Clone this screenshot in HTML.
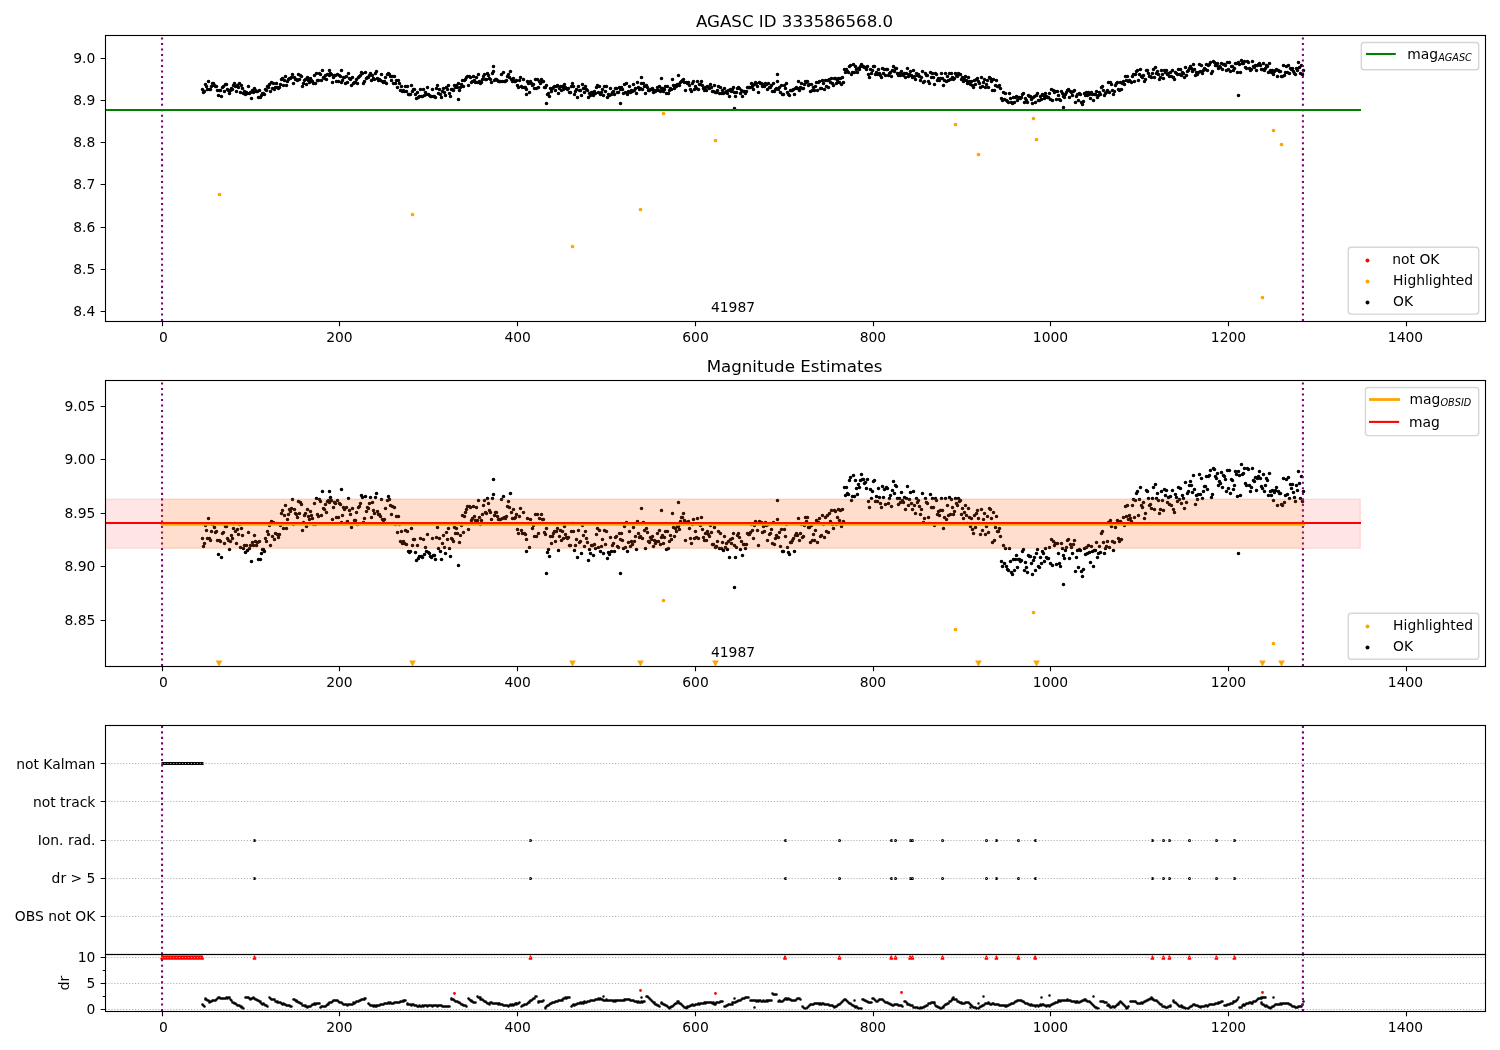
<!DOCTYPE html>
<html><head><meta charset="utf-8"><title>AGASC ID 333586568.0</title>
<style>html,body{margin:0;padding:0;background:#fff}svg{display:block}</style></head>
<body>
<svg width="1500" height="1050" viewBox="0 0 1500 1050" font-family="'DejaVu Sans','Liberation Sans',sans-serif" font-size="13.89" fill="#000">
<rect width="1500" height="1050" fill="#fff"/>
<defs>
<clipPath id="c1"><rect x="105.1" y="35.4" width="1379.9" height="285.9"/></clipPath>
<clipPath id="c2"><rect x="105.1" y="380.4" width="1379.9" height="285.9"/></clipPath>
<clipPath id="c3"><rect x="105.1" y="725.4" width="1379.9" height="229.1"/></clipPath>
<clipPath id="c4"><rect x="105.1" y="954.5" width="1379.9" height="56.8"/></clipPath>
<clipPath id="c34"><rect x="105.1" y="725.4" width="1379.9" height="285.9"/></clipPath>
</defs>
<g>
<path d="M202.5 89.5h.01M203.5 92.5h.01M204.5 91.5h.01M205.5 84.5h.01M206.5 86.5h.01M207.5 89.5h.01M208.5 81.5h.01M209.5 89.5h.01M210.5 89.5h.01M211.5 86.5h.01M212.5 83.5h.01M213.5 83.5h.01M214.5 85.5h.01M215.5 86.5h.01M216.5 86.5h.01M217.5 90.5h.01M218.5 95.5h.01M219.5 90.5h.01M220.5 90.5h.01M221.5 96.5h.01M222.5 87.5h.01M223.5 86.5h.01M224.5 91.5h.01M225.5 84.5h.01M226.5 84.5h.01M227.5 89.5h.01M228.5 90.5h.01M229.5 93.5h.01M230.5 90.5h.01M231.5 88.5h.01M232.5 89.5h.01M233.5 85.5h.01M234.5 83.5h.01M235.5 86.5h.01M236.5 91.5h.01M237.5 85.5h.01M238.5 87.5h.01M239.5 83.5h.01M240.5 92.5h.01M241.5 85.5h.01M242.5 88.5h.01M243.5 93.5h.01M244.5 91.5h.01M245.5 94.5h.01M246.5 92.5h.01M247.5 93.5h.01M248.5 86.5h.01M249.5 93.5h.01M250.5 92.5h.01M251.5 98.5h.01M252.5 90.5h.01M253.5 92.5h.01M254.5 88.5h.01M255.5 90.5h.01M256.5 91.5h.01M257.5 91.5h.01M258.5 97.5h.01M259.5 90.5h.01M260.5 97.5h.01M261.5 95.5h.01M262.5 93.5h.01M263.5 93.5h.01M264.5 94.5h.01M265.5 89.5h.01M266.5 90.5h.01M267.5 86.5h.01M268.5 87.5h.01M269.5 84.5h.01M270.5 91.5h.01M271.5 82.5h.01M272.5 88.5h.01M273.5 83.5h.01M274.5 89.5h.01M275.5 87.5h.01M276.5 83.5h.01M277.5 87.5h.01M278.5 88.5h.01M279.5 87.5h.01M280.5 84.5h.01M281.5 79.5h.01M282.5 78.5h.01M283.5 85.5h.01M284.5 80.5h.01M285.5 76.5h.01M286.5 85.5h.01M287.5 81.5h.01M288.5 79.5h.01M289.5 78.5h.01M290.5 78.5h.01M291.5 77.5h.01M292.5 74.5h.01M293.5 83.5h.01M294.5 77.5h.01M295.5 79.5h.01M296.5 79.5h.01M297.5 80.5h.01M298.5 74.5h.01M299.5 79.5h.01M300.5 75.5h.01M301.5 76.5h.01M302.5 86.5h.01M303.5 83.5h.01M304.5 80.5h.01M305.5 79.5h.01M306.5 84.5h.01M307.5 77.5h.01M308.5 80.5h.01M309.5 82.5h.01M310.5 78.5h.01M311.5 80.5h.01M312.5 81.5h.01M313.5 83.5h.01M314.5 75.5h.01M315.5 83.5h.01M316.5 73.5h.01M317.5 80.5h.01M318.5 80.5h.01M319.5 73.5h.01M320.5 74.5h.01M321.5 80.5h.01M322.5 70.5h.01M323.5 77.5h.01M324.5 78.5h.01M325.5 75.5h.01M326.5 79.5h.01M327.5 74.5h.01M328.5 74.5h.01M329.5 75.5h.01M330.5 73.5h.01M331.5 74.5h.01M332.5 82.5h.01M333.5 77.5h.01M334.5 75.5h.01M335.5 75.5h.01M336.5 81.5h.01M337.5 74.5h.01M338.5 81.5h.01M339.5 75.5h.01M340.5 76.5h.01M341.5 82.5h.01M342.5 80.5h.01M343.5 77.5h.01M344.5 77.5h.01M345.5 83.5h.01M346.5 76.5h.01M347.5 82.5h.01M348.5 73.5h.01M349.5 78.5h.01M350.5 79.5h.01M351.5 85.5h.01M352.5 77.5h.01M353.5 83.5h.01M354.5 82.5h.01M355.5 82.5h.01M356.5 79.5h.01M357.5 83.5h.01M358.5 77.5h.01M359.5 76.5h.01M360.5 75.5h.01M361.5 72.5h.01M362.5 73.5h.01M363.5 83.5h.01M364.5 81.5h.01M365.5 72.5h.01M366.5 78.5h.01M367.5 77.5h.01M368.5 77.5h.01M369.5 75.5h.01M370.5 73.5h.01M371.5 80.5h.01M372.5 75.5h.01M373.5 78.5h.01M374.5 79.5h.01M375.5 73.5h.01M376.5 71.5h.01M377.5 78.5h.01M378.5 80.5h.01M379.5 79.5h.01M380.5 80.5h.01M381.5 74.5h.01M382.5 81.5h.01M383.5 82.5h.01M384.5 81.5h.01M385.5 77.5h.01M386.5 83.5h.01M387.5 74.5h.01M388.5 73.5h.01M389.5 74.5h.01M390.5 76.5h.01M391.5 80.5h.01M392.5 76.5h.01M393.5 83.5h.01M394.5 76.5h.01M395.5 83.5h.01M396.5 80.5h.01M397.5 87.5h.01M398.5 80.5h.01M399.5 83.5h.01M400.5 90.5h.01M401.5 86.5h.01M402.5 91.5h.01M403.5 90.5h.01M404.5 91.5h.01M405.5 86.5h.01M406.5 91.5h.01M407.5 86.5h.01M408.5 94.5h.01M409.5 94.5h.01M410.5 94.5h.01M411.5 85.5h.01M412.5 91.5h.01M413.5 89.5h.01M414.5 89.5h.01M415.5 94.5h.01M416.5 98.5h.01M417.5 92.5h.01M418.5 97.5h.01M419.5 96.5h.01M420.5 89.5h.01M421.5 96.5h.01M422.5 96.5h.01M423.5 89.5h.01M424.5 95.5h.01M425.5 92.5h.01M426.5 94.5h.01M427.5 87.5h.01M428.5 94.5h.01M429.5 95.5h.01M430.5 96.5h.01M431.5 96.5h.01M432.5 89.5h.01M433.5 96.5h.01M434.5 96.5h.01M435.5 97.5h.01M436.5 88.5h.01M437.5 85.5h.01M438.5 93.5h.01M439.5 89.5h.01M440.5 94.5h.01M441.5 97.5h.01M442.5 91.5h.01M443.5 88.5h.01M444.5 92.5h.01M445.5 95.5h.01M446.5 87.5h.01M447.5 89.5h.01M448.5 85.5h.01M449.5 93.5h.01M450.5 96.5h.01M451.5 89.5h.01M452.5 89.5h.01M453.5 90.5h.01M454.5 85.5h.01M455.5 87.5h.01M456.5 85.5h.01M457.5 87.5h.01M458.5 83.5h.01M459.5 90.5h.01M460.5 87.5h.01M461.5 84.5h.01M462.5 80.5h.01M463.5 86.5h.01M464.5 80.5h.01M465.5 79.5h.01M466.5 77.5h.01M467.5 76.5h.01M468.5 85.5h.01M469.5 76.5h.01M470.5 77.5h.01M471.5 82.5h.01M472.5 81.5h.01M473.5 76.5h.01M474.5 80.5h.01M475.5 82.5h.01M476.5 77.5h.01M477.5 82.5h.01M478.5 74.5h.01M479.5 81.5h.01M480.5 83.5h.01M481.5 82.5h.01M482.5 79.5h.01M483.5 76.5h.01M484.5 74.5h.01M485.5 79.5h.01M486.5 79.5h.01M487.5 73.5h.01M488.5 75.5h.01M489.5 78.5h.01M490.5 79.5h.01M491.5 82.5h.01M492.5 73.5h.01M493.5 71.5h.01M494.5 80.5h.01M495.5 79.5h.01M496.5 79.5h.01M497.5 80.5h.01M498.5 81.5h.01M499.5 81.5h.01M500.5 81.5h.01M501.5 74.5h.01M502.5 81.5h.01M503.5 72.5h.01M504.5 81.5h.01M505.5 81.5h.01M506.5 80.5h.01M507.5 76.5h.01M508.5 74.5h.01M509.5 77.5h.01M510.5 71.5h.01M511.5 79.5h.01M512.5 81.5h.01M513.5 78.5h.01M514.5 81.5h.01M515.5 81.5h.01M516.5 80.5h.01M517.5 85.5h.01M518.5 87.5h.01M519.5 80.5h.01M520.5 77.5h.01M521.5 86.5h.01M522.5 87.5h.01M523.5 79.5h.01M524.5 87.5h.01M525.5 87.5h.01M526.5 89.5h.01M527.5 81.5h.01M528.5 83.5h.01M529.5 92.5h.01M530.5 81.5h.01M531.5 83.5h.01M532.5 85.5h.01M533.5 84.5h.01M534.5 88.5h.01M535.5 79.5h.01M536.5 88.5h.01M537.5 79.5h.01M538.5 87.5h.01M539.5 81.5h.01M540.5 83.5h.01M541.5 79.5h.01M542.5 81.5h.01M543.5 81.5h.01M544.5 87.5h.01M545.5 87.5h.01M546.5 85.5h.01M547.5 94.5h.01M548.5 93.5h.01M549.5 96.5h.01M550.5 88.5h.01M551.5 91.5h.01M552.5 88.5h.01M553.5 87.5h.01M554.5 86.5h.01M555.5 90.5h.01M556.5 86.5h.01M557.5 85.5h.01M558.5 93.5h.01M559.5 88.5h.01M560.5 86.5h.01M561.5 90.5h.01M562.5 86.5h.01M563.5 89.5h.01M564.5 84.5h.01M565.5 87.5h.01M566.5 88.5h.01M567.5 89.5h.01M568.5 88.5h.01M569.5 92.5h.01M570.5 92.5h.01M571.5 86.5h.01M572.5 83.5h.01M573.5 86.5h.01M574.5 94.5h.01M575.5 91.5h.01M576.5 89.5h.01M577.5 97.5h.01M578.5 86.5h.01M579.5 90.5h.01M580.5 90.5h.01M581.5 95.5h.01M582.5 84.5h.01M583.5 88.5h.01M584.5 92.5h.01M585.5 86.5h.01M586.5 89.5h.01M587.5 90.5h.01M588.5 97.5h.01M589.5 93.5h.01M590.5 95.5h.01M591.5 92.5h.01M592.5 92.5h.01M593.5 95.5h.01M594.5 91.5h.01M595.5 93.5h.01M596.5 87.5h.01M597.5 85.5h.01M598.5 92.5h.01M599.5 86.5h.01M600.5 94.5h.01M601.5 92.5h.01M602.5 89.5h.01M603.5 95.5h.01M604.5 86.5h.01M605.5 91.5h.01M606.5 86.5h.01M607.5 97.5h.01M608.5 94.5h.01M609.5 95.5h.01M610.5 88.5h.01M611.5 94.5h.01M612.5 92.5h.01M613.5 91.5h.01M614.5 94.5h.01M615.5 88.5h.01M616.5 88.5h.01M617.5 92.5h.01M618.5 92.5h.01M619.5 87.5h.01M620.5 89.5h.01M621.5 87.5h.01M622.5 89.5h.01M623.5 93.5h.01M624.5 84.5h.01M625.5 92.5h.01M626.5 83.5h.01M627.5 94.5h.01M628.5 91.5h.01M629.5 86.5h.01M630.5 92.5h.01M631.5 90.5h.01M632.5 91.5h.01M633.5 84.5h.01M634.5 90.5h.01M635.5 88.5h.01M636.5 93.5h.01M637.5 82.5h.01M638.5 87.5h.01M639.5 89.5h.01M640.5 88.5h.01M641.5 83.5h.01M642.5 89.5h.01M643.5 83.5h.01M644.5 86.5h.01M645.5 93.5h.01M646.5 85.5h.01M647.5 87.5h.01M648.5 90.5h.01M649.5 90.5h.01M650.5 89.5h.01M651.5 89.5h.01M652.5 88.5h.01M653.5 92.5h.01M654.5 90.5h.01M655.5 91.5h.01M656.5 90.5h.01M657.5 87.5h.01M658.5 90.5h.01M659.5 86.5h.01M660.5 91.5h.01M661.5 88.5h.01M662.5 88.5h.01M663.5 91.5h.01M664.5 89.5h.01M665.5 86.5h.01M666.5 93.5h.01M667.5 86.5h.01M668.5 93.5h.01M669.5 90.5h.01M670.5 88.5h.01M671.5 89.5h.01M672.5 79.5h.01M673.5 85.5h.01M674.5 88.5h.01M675.5 85.5h.01M676.5 86.5h.01M677.5 84.5h.01M678.5 84.5h.01M679.5 85.5h.01M680.5 82.5h.01M681.5 81.5h.01M682.5 80.5h.01M683.5 79.5h.01M684.5 82.5h.01M685.5 90.5h.01M686.5 82.5h.01M687.5 83.5h.01M688.5 82.5h.01M689.5 85.5h.01M690.5 89.5h.01M691.5 91.5h.01M692.5 83.5h.01M693.5 81.5h.01M694.5 89.5h.01M695.5 86.5h.01M696.5 88.5h.01M697.5 81.5h.01M698.5 89.5h.01M699.5 84.5h.01M700.5 84.5h.01M701.5 81.5h.01M702.5 85.5h.01M703.5 88.5h.01M704.5 90.5h.01M705.5 87.5h.01M706.5 90.5h.01M707.5 86.5h.01M708.5 87.5h.01M709.5 88.5h.01M710.5 84.5h.01M711.5 87.5h.01M712.5 91.5h.01M713.5 91.5h.01M714.5 85.5h.01M715.5 92.5h.01M716.5 92.5h.01M717.5 90.5h.01M718.5 86.5h.01M719.5 93.5h.01M720.5 87.5h.01M721.5 93.5h.01M722.5 90.5h.01M723.5 93.5h.01M724.5 88.5h.01M725.5 92.5h.01M726.5 91.5h.01M727.5 93.5h.01M728.5 90.5h.01M729.5 96.5h.01M730.5 89.5h.01M731.5 91.5h.01M732.5 89.5h.01M733.5 87.5h.01M734.5 92.5h.01M735.5 96.5h.01M736.5 92.5h.01M737.5 88.5h.01M738.5 87.5h.01M739.5 88.5h.01M740.5 93.5h.01M741.5 90.5h.01M742.5 96.5h.01M743.5 91.5h.01M744.5 91.5h.01M745.5 93.5h.01M746.5 91.5h.01M747.5 87.5h.01M748.5 87.5h.01M749.5 87.5h.01M750.5 87.5h.01M751.5 83.5h.01M752.5 86.5h.01M753.5 89.5h.01M754.5 84.5h.01M755.5 82.5h.01M756.5 83.5h.01M757.5 86.5h.01M758.5 92.5h.01M759.5 82.5h.01M760.5 83.5h.01M761.5 83.5h.01M762.5 86.5h.01M763.5 84.5h.01M764.5 86.5h.01M765.5 83.5h.01M766.5 84.5h.01M767.5 89.5h.01M768.5 83.5h.01M769.5 87.5h.01M770.5 87.5h.01M771.5 85.5h.01M772.5 91.5h.01M773.5 83.5h.01M774.5 91.5h.01M775.5 89.5h.01M776.5 88.5h.01M777.5 81.5h.01M778.5 89.5h.01M779.5 87.5h.01M780.5 92.5h.01M781.5 85.5h.01M782.5 94.5h.01M783.5 94.5h.01M784.5 85.5h.01M785.5 88.5h.01M786.5 83.5h.01M787.5 92.5h.01M788.5 94.5h.01M789.5 95.5h.01M790.5 90.5h.01M791.5 90.5h.01M792.5 90.5h.01M793.5 89.5h.01M794.5 94.5h.01M795.5 88.5h.01M796.5 87.5h.01M797.5 88.5h.01M798.5 81.5h.01M799.5 90.5h.01M800.5 87.5h.01M801.5 83.5h.01M802.5 88.5h.01M803.5 88.5h.01M804.5 84.5h.01M805.5 81.5h.01M806.5 82.5h.01M807.5 81.5h.01M808.5 85.5h.01M809.5 84.5h.01M810.5 91.5h.01M811.5 84.5h.01M812.5 90.5h.01M813.5 87.5h.01M814.5 90.5h.01M815.5 86.5h.01M816.5 82.5h.01M817.5 90.5h.01M818.5 82.5h.01M819.5 81.5h.01M820.5 88.5h.01M821.5 88.5h.01M822.5 80.5h.01M823.5 83.5h.01M824.5 89.5h.01M825.5 80.5h.01M826.5 86.5h.01M827.5 80.5h.01M828.5 87.5h.01M829.5 79.5h.01M830.5 82.5h.01M831.5 78.5h.01M832.5 83.5h.01M833.5 85.5h.01M834.5 78.5h.01M835.5 78.5h.01M836.5 83.5h.01M837.5 80.5h.01M838.5 78.5h.01M839.5 82.5h.01M840.5 78.5h.01M841.5 84.5h.01M842.5 77.5h.01M843.5 82.5h.01M844.5 69.5h.01M845.5 72.5h.01M846.5 69.5h.01M847.5 71.5h.01M848.5 72.5h.01M849.5 66.5h.01M850.5 65.5h.01M851.5 74.5h.01M852.5 72.5h.01M853.5 64.5h.01M854.5 72.5h.01M855.5 66.5h.01M856.5 69.5h.01M857.5 72.5h.01M858.5 68.5h.01M859.5 69.5h.01M860.5 66.5h.01M861.5 64.5h.01M862.5 66.5h.01M863.5 66.5h.01M864.5 67.5h.01M865.5 67.5h.01M866.5 69.5h.01M867.5 66.5h.01M868.5 74.5h.01M869.5 77.5h.01M870.5 69.5h.01M871.5 73.5h.01M872.5 70.5h.01M873.5 66.5h.01M874.5 66.5h.01M875.5 74.5h.01M876.5 72.5h.01M877.5 74.5h.01M878.5 69.5h.01M879.5 73.5h.01M880.5 75.5h.01M881.5 77.5h.01M882.5 68.5h.01M883.5 73.5h.01M884.5 69.5h.01M885.5 75.5h.01M886.5 69.5h.01M887.5 69.5h.01M888.5 75.5h.01M889.5 73.5h.01M890.5 72.5h.01M891.5 76.5h.01M892.5 70.5h.01M893.5 66.5h.01M894.5 71.5h.01M895.5 68.5h.01M896.5 68.5h.01M897.5 73.5h.01M898.5 75.5h.01M899.5 73.5h.01M900.5 75.5h.01M901.5 71.5h.01M902.5 74.5h.01M903.5 75.5h.01M904.5 73.5h.01M905.5 77.5h.01M906.5 73.5h.01M907.5 68.5h.01M908.5 76.5h.01M909.5 74.5h.01M910.5 71.5h.01M911.5 75.5h.01M912.5 77.5h.01M913.5 70.5h.01M914.5 76.5h.01M915.5 79.5h.01M916.5 73.5h.01M917.5 75.5h.01M918.5 74.5h.01M919.5 76.5h.01M920.5 80.5h.01M921.5 77.5h.01M922.5 71.5h.01M923.5 82.5h.01M924.5 81.5h.01M925.5 73.5h.01M926.5 75.5h.01M927.5 75.5h.01M928.5 81.5h.01M929.5 83.5h.01M930.5 72.5h.01M931.5 77.5h.01M932.5 73.5h.01M933.5 77.5h.01M934.5 84.5h.01M935.5 73.5h.01M936.5 74.5h.01M937.5 80.5h.01M938.5 78.5h.01M939.5 80.5h.01M940.5 78.5h.01M941.5 73.5h.01M942.5 78.5h.01M943.5 85.5h.01M944.5 80.5h.01M945.5 73.5h.01M946.5 81.5h.01M947.5 76.5h.01M948.5 80.5h.01M949.5 73.5h.01M950.5 79.5h.01M951.5 73.5h.01M952.5 77.5h.01M953.5 79.5h.01M954.5 78.5h.01M955.5 73.5h.01M956.5 75.5h.01M957.5 76.5h.01M958.5 73.5h.01M959.5 74.5h.01M960.5 74.5h.01M961.5 79.5h.01M962.5 77.5h.01M963.5 81.5h.01M964.5 79.5h.01M965.5 76.5h.01M966.5 80.5h.01M967.5 83.5h.01M968.5 77.5h.01M969.5 81.5h.01M970.5 84.5h.01M971.5 81.5h.01M972.5 85.5h.01M973.5 87.5h.01M974.5 80.5h.01M975.5 84.5h.01M976.5 79.5h.01M977.5 78.5h.01M978.5 81.5h.01M979.5 83.5h.01M980.5 87.5h.01M981.5 77.5h.01M982.5 86.5h.01M983.5 82.5h.01M984.5 79.5h.01M985.5 87.5h.01M986.5 84.5h.01M987.5 80.5h.01M988.5 87.5h.01M989.5 77.5h.01M990.5 78.5h.01M991.5 81.5h.01M992.5 90.5h.01M993.5 79.5h.01M994.5 90.5h.01M995.5 85.5h.01M996.5 80.5h.01M997.5 86.5h.01M998.5 86.5h.01M999.5 85.5h.01M1000.5 88.5h.01M1001.5 98.5h.01M1002.5 100.5h.01M1003.5 92.5h.01M1004.5 99.5h.01M1005.5 93.5h.01M1006.5 100.5h.01M1007.5 101.5h.01M1008.5 102.5h.01M1009.5 93.5h.01M1010.5 98.5h.01M1011.5 102.5h.01M1012.5 103.5h.01M1013.5 97.5h.01M1014.5 102.5h.01M1015.5 97.5h.01M1016.5 96.5h.01M1017.5 100.5h.01M1018.5 97.5h.01M1019.5 97.5h.01M1020.5 98.5h.01M1021.5 97.5h.01M1022.5 94.5h.01M1023.5 93.5h.01M1024.49 102.5h.01M1025.49 98.5h.01M1026.49 100.5h.01M1027.49 102.5h.01M1028.49 95.5h.01M1029.49 96.5h.01M1030.49 96.5h.01M1031.49 99.5h.01M1032.49 103.5h.01M1033.49 97.5h.01M1034.49 96.5h.01M1035.49 102.5h.01M1036.49 95.5h.01M1037.49 93.5h.01M1038.49 100.5h.01M1039.49 100.5h.01M1040.49 96.5h.01M1041.49 99.5h.01M1042.49 94.5h.01M1043.49 95.5h.01M1044.49 98.5h.01M1045.49 93.5h.01M1046.49 96.5h.01M1047.49 97.5h.01M1048.49 97.5h.01M1049.49 93.5h.01M1050.49 99.5h.01M1051.49 89.5h.01M1052.49 100.5h.01M1053.49 90.5h.01M1054.49 92.5h.01M1055.49 91.5h.01M1056.49 99.5h.01M1057.49 91.5h.01M1058.49 95.5h.01M1059.49 99.5h.01M1060.49 100.5h.01M1061.49 91.5h.01M1062.49 93.5h.01M1063.49 96.5h.01M1064.49 97.5h.01M1065.49 94.5h.01M1066.49 92.5h.01M1067.49 90.5h.01M1068.49 89.5h.01M1069.49 97.5h.01M1070.49 91.5h.01M1071.49 92.5h.01M1072.49 95.5h.01M1073.49 91.5h.01M1074.49 90.5h.01M1075.49 102.5h.01M1076.49 96.5h.01M1077.49 94.5h.01M1078.49 100.5h.01M1079.49 93.5h.01M1080.49 94.5h.01M1081.49 102.5h.01M1082.49 104.5h.01M1083.49 101.5h.01M1084.49 93.5h.01M1085.49 95.5h.01M1086.49 92.5h.01M1087.49 95.5h.01M1088.49 92.5h.01M1089.49 94.5h.01M1090.49 98.5h.01M1091.49 92.5h.01M1092.49 94.5h.01M1093.49 100.5h.01M1094.49 94.5h.01M1095.49 94.5h.01M1096.49 91.5h.01M1097.49 97.5h.01M1098.49 95.5h.01M1099.49 92.5h.01M1100.49 94.5h.01M1101.49 87.5h.01M1102.49 86.5h.01M1103.49 90.5h.01M1104.49 95.5h.01M1105.49 93.5h.01M1106.49 92.5h.01M1107.49 90.5h.01M1108.49 82.5h.01M1109.49 92.5h.01M1110.49 82.5h.01M1111.49 84.5h.01M1112.49 90.5h.01M1113.49 94.5h.01M1114.49 91.5h.01M1115.49 85.5h.01M1116.49 83.5h.01M1117.49 82.5h.01M1118.49 89.5h.01M1119.49 90.5h.01M1120.49 82.5h.01M1121.49 89.5h.01M1122.49 83.5h.01M1123.49 81.5h.01M1124.49 84.5h.01M1125.49 76.5h.01M1126.49 80.5h.01M1127.49 76.5h.01M1128.49 81.5h.01M1129.49 80.5h.01M1130.49 81.5h.01M1131.49 82.5h.01M1132.49 76.5h.01M1133.49 74.5h.01M1134.49 81.5h.01M1135.49 74.5h.01M1136.49 71.5h.01M1137.49 70.5h.01M1138.49 80.5h.01M1139.49 74.5h.01M1140.49 69.5h.01M1141.49 76.5h.01M1142.49 77.5h.01M1143.49 75.5h.01M1144.49 81.5h.01M1145.49 79.5h.01M1146.49 70.5h.01M1147.49 70.5h.01M1148.49 73.5h.01M1149.49 76.5h.01M1150.49 76.5h.01M1151.49 77.5h.01M1152.49 73.5h.01M1153.49 69.5h.01M1154.49 77.5h.01M1155.49 67.5h.01M1156.49 73.5h.01M1157.49 71.5h.01M1158.49 74.5h.01M1159.49 79.5h.01M1160.49 77.5h.01M1161.49 70.5h.01M1162.49 74.5h.01M1163.49 78.5h.01M1164.49 70.5h.01M1165.49 72.5h.01M1166.49 70.5h.01M1167.49 74.5h.01M1168.49 73.5h.01M1169.49 76.5h.01M1170.49 72.5h.01M1171.49 76.5h.01M1172.49 70.5h.01M1173.49 77.5h.01M1174.49 79.5h.01M1175.49 72.5h.01M1176.49 73.5h.01M1177.49 74.5h.01M1178.49 69.5h.01M1179.49 74.5h.01M1180.49 69.5h.01M1181.49 75.5h.01M1182.49 72.5h.01M1183.49 73.5h.01M1184.49 77.5h.01M1185.49 67.5h.01M1186.49 75.5h.01M1187.49 71.5h.01M1188.49 70.5h.01M1189.49 68.5h.01M1190.49 66.5h.01M1191.49 68.5h.01M1192.49 71.5h.01M1193.49 64.5h.01M1194.49 69.5h.01M1195.49 75.5h.01M1196.49 72.5h.01M1197.49 74.5h.01M1198.49 72.5h.01M1199.49 64.5h.01M1200.49 71.5h.01M1201.49 65.5h.01M1202.49 73.5h.01M1203.49 70.5h.01M1204.49 68.5h.01M1205.49 69.5h.01M1206.49 64.5h.01M1207.49 70.5h.01M1208.49 65.5h.01M1209.49 64.5h.01M1210.49 62.5h.01M1211.49 73.5h.01M1212.49 71.5h.01M1213.49 61.5h.01M1214.49 62.5h.01M1215.49 65.5h.01M1216.49 65.5h.01M1217.49 63.5h.01M1218.49 68.5h.01M1219.49 66.5h.01M1220.49 67.5h.01M1221.49 63.5h.01M1222.49 69.5h.01M1223.49 64.5h.01M1224.49 64.5h.01M1225.49 65.5h.01M1226.49 70.5h.01M1227.49 62.5h.01M1228.49 69.5h.01M1229.49 62.5h.01M1230.49 71.5h.01M1231.49 66.5h.01M1232.49 66.5h.01M1233.49 70.5h.01M1234.49 68.5h.01M1235.49 63.5h.01M1236.49 63.5h.01M1237.49 72.5h.01M1238.49 62.5h.01M1239.49 64.5h.01M1240.49 72.5h.01M1241.49 60.5h.01M1242.49 63.5h.01M1243.49 63.5h.01M1244.49 61.5h.01M1245.49 67.5h.01M1246.49 68.5h.01M1247.49 61.5h.01M1248.49 62.5h.01M1249.49 68.5h.01M1250.49 70.5h.01M1251.49 69.5h.01M1252.49 61.5h.01M1253.49 66.5h.01M1254.49 67.5h.01M1255.49 65.5h.01M1256.49 70.5h.01M1257.49 65.5h.01M1258.49 64.5h.01M1259.49 63.5h.01M1260.49 65.5h.01M1261.49 69.5h.01M1262.49 69.5h.01M1263.49 63.5h.01M1264.49 70.5h.01M1265.49 68.5h.01M1266.49 65.5h.01M1267.49 66.5h.01M1268.49 72.5h.01M1269.49 63.5h.01M1270.49 70.5h.01M1271.49 72.5h.01M1272.49 70.5h.01M1273.49 74.5h.01M1274.49 71.5h.01M1275.49 70.5h.01M1276.49 69.5h.01M1277.49 76.5h.01M1278.49 70.5h.01M1279.49 71.5h.01M1280.49 71.5h.01M1281.49 76.5h.01M1282.49 76.5h.01M1283.49 65.5h.01M1284.49 75.5h.01M1285.49 72.5h.01M1286.49 66.5h.01M1287.49 72.5h.01M1288.49 65.5h.01M1289.49 73.5h.01M1290.49 68.5h.01M1291.49 69.5h.01M1292.49 68.5h.01M1293.49 71.5h.01M1294.49 73.5h.01M1295.49 74.5h.01M1296.49 68.5h.01M1297.49 70.5h.01M1298.49 62.5h.01M1299.49 67.5h.01M1300.49 73.5h.01M1301.49 65.5h.01M1302.49 74.5h.01M1303.49 70.5h.01M493.5 66.5h.01M458.5 99.5h.01M546.5 103.5h.01M526.5 94.5h.01M620.5 103.5h.01M734.5 108.5h.01M641.5 77.5h.01M661.5 78.5h.01M678.5 75.5h.01M777.5 74.5h.01M1238.49 95.5h.01M329.5 70.5h.01M341.5 70.5h.01M1063.49 107.5h.01" stroke="#000" stroke-width="3.6" stroke-linecap="round" fill="none" clip-path="url(#c1)"/>
<path d="M219.5 194.5h.01M412.5 214.5h.01M572.5 246.5h.01M640.5 209.5h.01M663.5 113.5h.01M715.5 140.5h.01M955.5 124.5h.01M978.5 154.5h.01M1033.49 118.5h.01M1036.49 139.5h.01M1273.49 130.5h.01M1281.49 144.5h.01M1262.49 297.5h.01" stroke="#ffa500" stroke-width="3.7" stroke-linecap="round" fill="none" clip-path="url(#c1)"/>
<path d="M162.05 321.03V32.4" stroke="#800080" stroke-width="2.08" stroke-dasharray="2.0833 3.4375" fill="none" clip-path="url(#c1)"/>
<path d="M1302.92 321.03V32.4" stroke="#800080" stroke-width="2.08" stroke-dasharray="2.0833 3.4375" fill="none" clip-path="url(#c1)"/>
<path d="M105.1 110H1361" stroke="#008000" stroke-width="2.08" fill="none"/>
<rect x="105.5" y="35.5" width="1380" height="286" fill="none" stroke="#000" stroke-width="1.11"/>
<path d="M162.5 321.5v4.86M339.5 321.5v4.86M517.5 321.5v4.86M695.5 321.5v4.86M873.5 321.5v4.86M1050.5 321.5v4.86M1228.5 321.5v4.86M1406.5 321.5v4.86" stroke="#000" stroke-width="1.11" fill="none"/>
<text x="163.4" y="342" text-anchor="middle">0</text>
<text x="339.4" y="342" text-anchor="middle">200</text>
<text x="517.7" y="342" text-anchor="middle">400</text>
<text x="695.5" y="342" text-anchor="middle">600</text>
<text x="872.9" y="342" text-anchor="middle">800</text>
<text x="1050.5" y="342" text-anchor="middle">1000</text>
<text x="1228.5" y="342" text-anchor="middle">1200</text>
<text x="1405.5" y="342" text-anchor="middle">1400</text>
<path d="M105.5 311.5h-4.86M105.5 269.5h-4.86M105.5 227.5h-4.86M105.5 184.5h-4.86M105.5 142.5h-4.86M105.5 100.5h-4.86M105.5 58.5h-4.86" stroke="#000" stroke-width="1.11" fill="none"/>
<text x="95.38" y="315.8" text-anchor="end">8.4</text>
<text x="95.38" y="273.8" text-anchor="end">8.5</text>
<text x="95.38" y="231.8" text-anchor="end">8.6</text>
<text x="95.38" y="188.8" text-anchor="end">8.7</text>
<text x="95.38" y="146.8" text-anchor="end">8.8</text>
<text x="95.38" y="104.8" text-anchor="end">8.9</text>
<text x="95.38" y="62.8" text-anchor="end">9.0</text>
<text x="733" y="311.9" text-anchor="middle">41987</text>
<text x="794.55" y="26.97" text-anchor="middle" font-size="16.67">AGASC ID 333586568.0</text>
<rect x="1361.3" y="42.5" width="117.4" height="27.2" rx="2.78" fill="#fff" fill-opacity="0.8" stroke="#ccc" stroke-opacity="0.8" stroke-width="1.39"/>
<path d="M1365.9 54H1395.8" stroke="#008000" stroke-width="2.08" fill="none"/>
<text x="1407.3" y="58.8">mag<tspan font-style="italic" font-size="9.72" dy="2.2">AGASC</tspan></text>
<rect x="1348.3" y="247.3" width="130.4" height="66.8" rx="2.78" fill="#fff" fill-opacity="0.8" stroke="#ccc" stroke-opacity="0.8" stroke-width="1.39"/>
<path d="M1367.49 260.5h.01" stroke="#f00" stroke-width="3.9" stroke-linecap="round" fill="none"/>
<text x="1392.3" y="263.7">not OK</text>
<path d="M1367.49 281.5h.01" stroke="#ffa500" stroke-width="3.9" stroke-linecap="round" fill="none"/>
<text x="1393.1" y="284.8">Highlighted</text>
<path d="M1367.49 302.5h.01" stroke="#000" stroke-width="3.9" stroke-linecap="round" fill="none"/>
<text x="1393.1" y="305.7">OK</text>
</g>
<g>
<path d="M202.5 538.5h.01M203.5 546.5h.01M204.5 543.5h.01M205.5 525.5h.01M206.5 530.5h.01M207.5 538.5h.01M208.5 518.5h.01M209.5 538.5h.01M210.5 540.5h.01M211.5 531.5h.01M212.5 524.5h.01M213.5 524.5h.01M214.5 527.5h.01M215.5 532.5h.01M216.5 531.5h.01M217.5 540.5h.01M218.5 554.5h.01M219.5 540.5h.01M220.5 541.5h.01M221.5 557.5h.01M222.5 533.5h.01M223.5 532.5h.01M224.5 543.5h.01M225.5 526.5h.01M226.5 526.5h.01M227.5 538.5h.01M228.5 540.5h.01M229.5 549.5h.01M230.5 541.5h.01M231.5 535.5h.01M232.5 538.5h.01M233.5 528.5h.01M234.5 523.5h.01M235.5 531.5h.01M236.5 543.5h.01M237.5 529.5h.01M238.5 534.5h.01M239.5 524.5h.01M240.5 547.5h.01M241.5 528.5h.01M242.5 535.5h.01M243.5 548.5h.01M244.5 545.5h.01M245.5 552.5h.01M246.5 545.5h.01M247.5 550.5h.01M248.5 532.5h.01M249.5 548.5h.01M250.5 545.5h.01M251.5 561.5h.01M252.5 542.5h.01M253.5 545.5h.01M254.5 535.5h.01M255.5 541.5h.01M256.5 545.5h.01M257.5 542.5h.01M258.5 559.5h.01M259.5 541.5h.01M260.5 559.5h.01M261.5 553.5h.01M262.5 549.5h.01M263.5 549.5h.01M264.5 551.5h.01M265.5 538.5h.01M266.5 541.5h.01M267.5 531.5h.01M268.5 534.5h.01M269.5 525.5h.01M270.5 545.5h.01M271.5 521.5h.01M272.5 536.5h.01M273.5 522.5h.01M274.5 539.5h.01M275.5 533.5h.01M276.5 523.5h.01M277.5 534.5h.01M278.5 537.5h.01M279.5 534.5h.01M280.5 525.5h.01M281.5 513.5h.01M282.5 510.5h.01M283.5 528.5h.01M284.5 515.5h.01M285.5 505.5h.01M286.5 528.5h.01M287.5 519.5h.01M288.5 514.5h.01M289.5 509.5h.01M290.5 511.5h.01M291.5 508.5h.01M292.5 499.5h.01M293.5 524.5h.01M294.5 509.5h.01M295.5 513.5h.01M296.5 514.5h.01M297.5 517.5h.01M298.5 501.5h.01M299.5 513.5h.01M300.5 502.5h.01M301.5 504.5h.01M302.5 530.5h.01M303.5 522.5h.01M304.5 515.5h.01M305.5 513.5h.01M306.5 526.5h.01M307.5 509.5h.01M308.5 516.5h.01M309.5 519.5h.01M310.5 511.5h.01M311.5 515.5h.01M312.5 518.5h.01M313.5 524.5h.01M314.5 503.5h.01M315.5 524.5h.01M316.5 498.5h.01M317.5 514.5h.01M318.5 516.5h.01M319.5 499.5h.01M320.5 501.5h.01M321.5 515.5h.01M322.5 491.5h.01M323.5 508.5h.01M324.5 509.5h.01M325.5 504.5h.01M326.5 512.5h.01M327.5 501.5h.01M328.5 500.5h.01M329.5 502.5h.01M330.5 497.5h.01M331.5 500.5h.01M332.5 519.5h.01M333.5 507.5h.01M334.5 502.5h.01M335.5 503.5h.01M336.5 517.5h.01M337.5 500.5h.01M338.5 517.5h.01M339.5 503.5h.01M340.5 504.5h.01M341.5 522.5h.01M342.5 515.5h.01M343.5 507.5h.01M344.5 509.5h.01M345.5 523.5h.01M346.5 507.5h.01M347.5 521.5h.01M348.5 498.5h.01M349.5 510.5h.01M350.5 514.5h.01M351.5 527.5h.01M352.5 508.5h.01M353.5 523.5h.01M354.5 520.5h.01M355.5 520.5h.01M356.5 512.5h.01M357.5 524.5h.01M358.5 507.5h.01M359.5 506.5h.01M360.5 503.5h.01M361.5 495.5h.01M362.5 497.5h.01M363.5 522.5h.01M364.5 518.5h.01M365.5 496.5h.01M366.5 511.5h.01M367.5 507.5h.01M368.5 508.5h.01M369.5 503.5h.01M370.5 497.5h.01M371.5 517.5h.01M372.5 502.5h.01M373.5 510.5h.01M374.5 513.5h.01M375.5 497.5h.01M376.5 493.5h.01M377.5 511.5h.01M378.5 514.5h.01M379.5 514.5h.01M380.5 516.5h.01M381.5 499.5h.01M382.5 519.5h.01M383.5 520.5h.01M384.5 519.5h.01M385.5 508.5h.01M386.5 523.5h.01M387.5 500.5h.01M388.5 496.5h.01M389.5 499.5h.01M390.5 505.5h.01M391.5 514.5h.01M392.5 506.5h.01M393.5 523.5h.01M394.5 507.5h.01M395.5 524.5h.01M396.5 516.5h.01M397.5 532.5h.01M398.5 516.5h.01M399.5 524.5h.01M400.5 541.5h.01M401.5 531.5h.01M402.5 543.5h.01M403.5 541.5h.01M404.5 543.5h.01M405.5 530.5h.01M406.5 544.5h.01M407.5 531.5h.01M408.5 551.5h.01M409.5 552.5h.01M410.5 551.5h.01M411.5 528.5h.01M412.5 545.5h.01M413.5 539.5h.01M414.5 539.5h.01M415.5 552.5h.01M416.5 560.5h.01M417.5 545.5h.01M418.5 558.5h.01M419.5 556.5h.01M420.5 538.5h.01M421.5 556.5h.01M422.5 557.5h.01M423.5 539.5h.01M424.5 554.5h.01M425.5 547.5h.01M426.5 551.5h.01M427.5 534.5h.01M428.5 552.5h.01M429.5 553.5h.01M430.5 556.5h.01M431.5 557.5h.01M432.5 538.5h.01M433.5 555.5h.01M434.5 555.5h.01M435.5 559.5h.01M436.5 537.5h.01M437.5 527.5h.01M438.5 548.5h.01M439.5 538.5h.01M440.5 551.5h.01M441.5 559.5h.01M442.5 543.5h.01M443.5 535.5h.01M444.5 547.5h.01M445.5 553.5h.01M446.5 532.5h.01M447.5 539.5h.01M448.5 528.5h.01M449.5 548.5h.01M450.5 556.5h.01M451.5 538.5h.01M452.5 539.5h.01M453.5 541.5h.01M454.5 527.5h.01M455.5 533.5h.01M456.5 528.5h.01M457.5 533.5h.01M458.5 523.5h.01M459.5 542.5h.01M460.5 535.5h.01M461.5 525.5h.01M462.5 515.5h.01M463.5 532.5h.01M464.5 516.5h.01M465.5 512.5h.01M466.5 509.5h.01M467.5 506.5h.01M468.5 529.5h.01M469.5 506.5h.01M470.5 507.5h.01M471.5 520.5h.01M472.5 518.5h.01M473.5 506.5h.01M474.5 516.5h.01M475.5 520.5h.01M476.5 507.5h.01M477.5 520.5h.01M478.5 500.5h.01M479.5 517.5h.01M480.5 524.5h.01M481.5 520.5h.01M482.5 514.5h.01M483.5 505.5h.01M484.5 500.5h.01M485.5 512.5h.01M486.5 513.5h.01M487.5 498.5h.01M488.5 503.5h.01M489.5 510.5h.01M490.5 512.5h.01M491.5 519.5h.01M492.5 498.5h.01M493.5 494.5h.01M494.5 515.5h.01M495.5 512.5h.01M496.5 512.5h.01M497.5 516.5h.01M498.5 519.5h.01M499.5 519.5h.01M500.5 519.5h.01M501.5 499.5h.01M502.5 518.5h.01M503.5 496.5h.01M504.5 517.5h.01M505.5 518.5h.01M506.5 516.5h.01M507.5 506.5h.01M508.5 501.5h.01M509.5 507.5h.01M510.5 493.5h.01M511.5 512.5h.01M512.5 518.5h.01M513.5 509.5h.01M514.5 518.5h.01M515.5 517.5h.01M516.5 514.5h.01M517.5 529.5h.01M518.5 533.5h.01M519.5 516.5h.01M520.5 508.5h.01M521.5 530.5h.01M522.5 533.5h.01M523.5 512.5h.01M524.5 533.5h.01M525.5 534.5h.01M526.5 539.5h.01M527.5 518.5h.01M528.5 523.5h.01M529.5 547.5h.01M530.5 519.5h.01M531.5 523.5h.01M532.5 528.5h.01M533.5 525.5h.01M534.5 536.5h.01M535.5 514.5h.01M536.5 536.5h.01M537.5 514.5h.01M538.5 533.5h.01M539.5 518.5h.01M540.5 523.5h.01M541.5 514.5h.01M542.5 519.5h.01M543.5 519.5h.01M544.5 532.5h.01M545.5 534.5h.01M546.5 528.5h.01M547.5 552.5h.01M548.5 549.5h.01M549.5 556.5h.01M550.5 536.5h.01M551.5 543.5h.01M552.5 536.5h.01M553.5 533.5h.01M554.5 531.5h.01M555.5 541.5h.01M556.5 531.5h.01M557.5 528.5h.01M558.5 550.5h.01M559.5 536.5h.01M560.5 530.5h.01M561.5 540.5h.01M562.5 531.5h.01M563.5 538.5h.01M564.5 526.5h.01M565.5 534.5h.01M566.5 537.5h.01M567.5 538.5h.01M568.5 537.5h.01M569.5 545.5h.01M570.5 545.5h.01M571.5 531.5h.01M572.5 523.5h.01M573.5 531.5h.01M574.5 550.5h.01M575.5 545.5h.01M576.5 539.5h.01M577.5 557.5h.01M578.5 530.5h.01M579.5 542.5h.01M580.5 541.5h.01M581.5 553.5h.01M582.5 525.5h.01M583.5 535.5h.01M584.5 546.5h.01M585.5 531.5h.01M586.5 538.5h.01M587.5 542.5h.01M588.5 560.5h.01M589.5 549.5h.01M590.5 553.5h.01M591.5 545.5h.01M592.5 545.5h.01M593.5 555.5h.01M594.5 544.5h.01M595.5 548.5h.01M596.5 534.5h.01M597.5 528.5h.01M598.5 547.5h.01M599.5 530.5h.01M600.5 551.5h.01M601.5 546.5h.01M602.5 539.5h.01M603.5 553.5h.01M604.5 530.5h.01M605.5 544.5h.01M606.5 531.5h.01M607.5 558.5h.01M608.5 552.5h.01M609.5 554.5h.01M610.5 537.5h.01M611.5 551.5h.01M612.5 545.5h.01M613.5 543.5h.01M614.5 551.5h.01M615.5 537.5h.01M616.5 536.5h.01M617.5 546.5h.01M618.5 547.5h.01M619.5 533.5h.01M620.5 539.5h.01M621.5 533.5h.01M622.5 540.5h.01M623.5 548.5h.01M624.5 526.5h.01M625.5 547.5h.01M626.5 522.5h.01M627.5 551.5h.01M628.5 542.5h.01M629.5 531.5h.01M630.5 546.5h.01M631.5 541.5h.01M632.5 544.5h.01M633.5 527.5h.01M634.5 541.5h.01M635.5 536.5h.01M636.5 549.5h.01M637.5 521.5h.01M638.5 533.5h.01M639.5 537.5h.01M640.5 536.5h.01M641.5 523.5h.01M642.5 538.5h.01M643.5 522.5h.01M644.5 530.5h.01M645.5 548.5h.01M646.5 528.5h.01M647.5 532.5h.01M648.5 541.5h.01M649.5 542.5h.01M650.5 537.5h.01M651.5 539.5h.01M652.5 536.5h.01M653.5 546.5h.01M654.5 540.5h.01M655.5 543.5h.01M656.5 541.5h.01M657.5 533.5h.01M658.5 541.5h.01M659.5 530.5h.01M660.5 544.5h.01M661.5 537.5h.01M662.5 535.5h.01M663.5 543.5h.01M664.5 537.5h.01M665.5 531.5h.01M666.5 549.5h.01M667.5 531.5h.01M668.5 548.5h.01M669.5 541.5h.01M670.5 535.5h.01M671.5 539.5h.01M672.5 513.5h.01M673.5 527.5h.01M674.5 536.5h.01M675.5 528.5h.01M676.5 531.5h.01M677.5 526.5h.01M678.5 526.5h.01M679.5 529.5h.01M680.5 521.5h.01M681.5 517.5h.01M682.5 517.5h.01M683.5 513.5h.01M684.5 520.5h.01M685.5 540.5h.01M686.5 522.5h.01M687.5 523.5h.01M688.5 521.5h.01M689.5 528.5h.01M690.5 538.5h.01M691.5 543.5h.01M692.5 524.5h.01M693.5 519.5h.01M694.5 538.5h.01M695.5 531.5h.01M696.5 537.5h.01M697.5 518.5h.01M698.5 538.5h.01M699.5 524.5h.01M700.5 525.5h.01M701.5 517.5h.01M702.5 529.5h.01M703.5 537.5h.01M704.5 540.5h.01M705.5 533.5h.01M706.5 540.5h.01M707.5 531.5h.01M708.5 534.5h.01M709.5 536.5h.01M710.5 525.5h.01M711.5 532.5h.01M712.5 544.5h.01M713.5 544.5h.01M714.5 527.5h.01M715.5 547.5h.01M716.5 546.5h.01M717.5 541.5h.01M718.5 531.5h.01M719.5 548.5h.01M720.5 533.5h.01M721.5 548.5h.01M722.5 542.5h.01M723.5 550.5h.01M724.5 536.5h.01M725.5 547.5h.01M726.5 543.5h.01M727.5 549.5h.01M728.5 541.5h.01M729.5 557.5h.01M730.5 539.5h.01M731.5 543.5h.01M732.5 538.5h.01M733.5 533.5h.01M734.5 545.5h.01M735.5 557.5h.01M736.5 547.5h.01M737.5 535.5h.01M738.5 533.5h.01M739.5 537.5h.01M740.5 549.5h.01M741.5 541.5h.01M742.5 555.5h.01M743.5 544.5h.01M744.5 544.5h.01M745.5 548.5h.01M746.5 544.5h.01M747.5 533.5h.01M748.5 534.5h.01M749.5 534.5h.01M750.5 532.5h.01M751.5 524.5h.01M752.5 530.5h.01M753.5 538.5h.01M754.5 525.5h.01M755.5 521.5h.01M756.5 523.5h.01M757.5 530.5h.01M758.5 545.5h.01M759.5 521.5h.01M760.5 522.5h.01M761.5 522.5h.01M762.5 532.5h.01M763.5 526.5h.01M764.5 531.5h.01M765.5 522.5h.01M766.5 525.5h.01M767.5 540.5h.01M768.5 524.5h.01M769.5 534.5h.01M770.5 533.5h.01M771.5 529.5h.01M772.5 543.5h.01M773.5 522.5h.01M774.5 544.5h.01M775.5 538.5h.01M776.5 535.5h.01M777.5 519.5h.01M778.5 537.5h.01M779.5 532.5h.01M780.5 546.5h.01M781.5 529.5h.01M782.5 551.5h.01M783.5 551.5h.01M784.5 529.5h.01M785.5 536.5h.01M786.5 524.5h.01M787.5 547.5h.01M788.5 552.5h.01M789.5 554.5h.01M790.5 542.5h.01M791.5 542.5h.01M792.5 540.5h.01M793.5 538.5h.01M794.5 551.5h.01M795.5 535.5h.01M796.5 533.5h.01M797.5 535.5h.01M798.5 518.5h.01M799.5 540.5h.01M800.5 533.5h.01M801.5 524.5h.01M802.5 537.5h.01M803.5 536.5h.01M804.5 525.5h.01M805.5 517.5h.01M806.5 521.5h.01M807.5 517.5h.01M808.5 527.5h.01M809.5 527.5h.01M810.5 542.5h.01M811.5 525.5h.01M812.5 540.5h.01M813.5 534.5h.01M814.5 540.5h.01M815.5 530.5h.01M816.5 520.5h.01M817.5 542.5h.01M818.5 522.5h.01M819.5 518.5h.01M820.5 536.5h.01M821.5 535.5h.01M822.5 515.5h.01M823.5 524.5h.01M824.5 537.5h.01M825.5 517.5h.01M826.5 531.5h.01M827.5 515.5h.01M828.5 532.5h.01M829.5 513.5h.01M830.5 521.5h.01M831.5 510.5h.01M832.5 524.5h.01M833.5 528.5h.01M834.5 510.5h.01M835.5 511.5h.01M836.5 524.5h.01M837.5 517.5h.01M838.5 509.5h.01M839.5 520.5h.01M840.5 510.5h.01M841.5 526.5h.01M842.5 509.5h.01M843.5 521.5h.01M844.5 487.5h.01M845.5 495.5h.01M846.5 487.5h.01M847.5 493.5h.01M848.5 494.5h.01M849.5 480.5h.01M850.5 477.5h.01M851.5 500.5h.01M852.5 496.5h.01M853.5 475.5h.01M854.5 496.5h.01M855.5 480.5h.01M856.5 488.5h.01M857.5 494.5h.01M858.5 484.5h.01M859.5 487.5h.01M860.5 480.5h.01M861.5 474.5h.01M862.5 479.5h.01M863.5 479.5h.01M864.5 483.5h.01M865.5 482.5h.01M866.5 488.5h.01M867.5 479.5h.01M868.5 501.5h.01M869.5 507.5h.01M870.5 489.5h.01M871.5 498.5h.01M872.5 491.5h.01M873.5 481.5h.01M874.5 480.5h.01M875.5 501.5h.01M876.5 496.5h.01M877.5 501.5h.01M878.5 488.5h.01M879.5 497.5h.01M880.5 503.5h.01M881.5 507.5h.01M882.5 486.5h.01M883.5 497.5h.01M884.5 489.5h.01M885.5 504.5h.01M886.5 487.5h.01M887.5 488.5h.01M888.5 503.5h.01M889.5 498.5h.01M890.5 495.5h.01M891.5 506.5h.01M892.5 490.5h.01M893.5 481.5h.01M894.5 493.5h.01M895.5 485.5h.01M896.5 486.5h.01M897.5 498.5h.01M898.5 504.5h.01M899.5 498.5h.01M900.5 502.5h.01M901.5 492.5h.01M902.5 500.5h.01M903.5 502.5h.01M904.5 497.5h.01M905.5 509.5h.01M906.5 498.5h.01M907.5 486.5h.01M908.5 505.5h.01M909.5 499.5h.01M910.5 492.5h.01M911.5 503.5h.01M912.5 509.5h.01M913.5 491.5h.01M914.5 505.5h.01M915.5 513.5h.01M916.5 498.5h.01M917.5 502.5h.01M918.5 500.5h.01M919.5 506.5h.01M920.5 514.5h.01M921.5 509.5h.01M922.5 493.5h.01M923.5 522.5h.01M924.5 518.5h.01M925.5 498.5h.01M926.5 502.5h.01M927.5 503.5h.01M928.5 517.5h.01M929.5 523.5h.01M930.5 494.5h.01M931.5 507.5h.01M932.5 498.5h.01M933.5 507.5h.01M934.5 525.5h.01M935.5 498.5h.01M936.5 500.5h.01M937.5 514.5h.01M938.5 511.5h.01M939.5 515.5h.01M940.5 510.5h.01M941.5 498.5h.01M942.5 510.5h.01M943.5 528.5h.01M944.5 517.5h.01M945.5 498.5h.01M946.5 519.5h.01M947.5 505.5h.01M948.5 515.5h.01M949.5 497.5h.01M950.5 514.5h.01M951.5 499.5h.01M952.5 507.5h.01M953.5 514.5h.01M954.5 511.5h.01M955.5 498.5h.01M956.5 503.5h.01M957.5 505.5h.01M958.5 498.5h.01M959.5 501.5h.01M960.5 500.5h.01M961.5 514.5h.01M962.5 508.5h.01M963.5 518.5h.01M964.5 512.5h.01M965.5 505.5h.01M966.5 515.5h.01M967.5 523.5h.01M968.5 508.5h.01M969.5 517.5h.01M970.5 526.5h.01M971.5 518.5h.01M972.5 529.5h.01M973.5 533.5h.01M974.5 515.5h.01M975.5 527.5h.01M976.5 513.5h.01M977.5 510.5h.01M978.5 518.5h.01M979.5 523.5h.01M980.5 534.5h.01M981.5 509.5h.01M982.5 530.5h.01M983.5 519.5h.01M984.5 513.5h.01M985.5 534.5h.01M986.5 526.5h.01M987.5 516.5h.01M988.5 532.5h.01M989.5 508.5h.01M990.5 509.5h.01M991.5 518.5h.01M992.5 542.5h.01M993.5 512.5h.01M994.5 540.5h.01M995.5 527.5h.01M996.5 516.5h.01M997.5 531.5h.01M998.5 531.5h.01M999.5 528.5h.01M1000.5 536.5h.01M1001.5 561.5h.01M1002.5 566.5h.01M1003.5 545.5h.01M1004.5 563.5h.01M1005.5 548.5h.01M1006.5 566.5h.01M1007.5 569.5h.01M1008.5 570.5h.01M1009.5 548.5h.01M1010.5 561.5h.01M1011.5 572.5h.01M1012.5 574.5h.01M1013.5 559.5h.01M1014.5 570.5h.01M1015.5 559.5h.01M1016.5 555.5h.01M1017.5 567.5h.01M1018.5 559.5h.01M1019.5 559.5h.01M1020.5 561.5h.01M1021.5 560.5h.01M1022.5 551.5h.01M1023.5 549.5h.01M1024.49 570.5h.01M1025.49 562.5h.01M1026.49 567.5h.01M1027.49 572.5h.01M1028.49 555.5h.01M1029.49 556.5h.01M1030.49 556.5h.01M1031.49 563.5h.01M1032.49 574.5h.01M1033.49 560.5h.01M1034.49 557.5h.01M1035.49 570.5h.01M1036.49 553.5h.01M1037.49 549.5h.01M1038.49 566.5h.01M1039.49 567.5h.01M1040.49 557.5h.01M1041.49 563.5h.01M1042.49 551.5h.01M1043.49 553.5h.01M1044.49 561.5h.01M1045.49 548.5h.01M1046.49 557.5h.01M1047.49 558.5h.01M1048.49 558.5h.01M1049.49 547.5h.01M1050.49 563.5h.01M1051.49 539.5h.01M1052.49 565.5h.01M1053.49 541.5h.01M1054.49 545.5h.01M1055.49 543.5h.01M1056.49 564.5h.01M1057.49 543.5h.01M1058.49 553.5h.01M1059.49 563.5h.01M1060.49 566.5h.01M1061.49 543.5h.01M1062.49 548.5h.01M1063.49 555.5h.01M1064.49 558.5h.01M1065.49 550.5h.01M1066.49 547.5h.01M1067.49 540.5h.01M1068.49 539.5h.01M1069.49 558.5h.01M1070.49 544.5h.01M1071.49 547.5h.01M1072.49 553.5h.01M1073.49 544.5h.01M1074.49 540.5h.01M1075.49 571.5h.01M1076.49 557.5h.01M1077.49 550.5h.01M1078.49 567.5h.01M1079.49 549.5h.01M1080.49 550.5h.01M1081.49 571.5h.01M1082.49 576.5h.01M1083.49 569.5h.01M1084.49 548.5h.01M1085.49 554.5h.01M1086.49 547.5h.01M1087.49 553.5h.01M1088.49 545.5h.01M1089.49 552.5h.01M1090.49 562.5h.01M1091.49 546.5h.01M1092.49 551.5h.01M1093.49 566.5h.01M1094.49 550.5h.01M1095.49 550.5h.01M1096.49 542.5h.01M1097.49 557.5h.01M1098.49 553.5h.01M1099.49 546.5h.01M1100.49 552.5h.01M1101.49 533.5h.01M1102.49 531.5h.01M1103.49 542.5h.01M1104.49 553.5h.01M1105.49 548.5h.01M1106.49 546.5h.01M1107.49 541.5h.01M1108.49 522.5h.01M1109.49 547.5h.01M1110.49 520.5h.01M1111.49 526.5h.01M1112.49 541.5h.01M1113.49 550.5h.01M1114.49 542.5h.01M1115.49 527.5h.01M1116.49 523.5h.01M1117.49 520.5h.01M1118.49 538.5h.01M1119.49 541.5h.01M1120.49 521.5h.01M1121.49 539.5h.01M1122.49 523.5h.01M1123.49 517.5h.01M1124.49 525.5h.01M1125.49 506.5h.01M1126.49 516.5h.01M1127.49 505.5h.01M1128.49 519.5h.01M1129.49 515.5h.01M1130.49 518.5h.01M1131.49 521.5h.01M1132.49 505.5h.01M1133.49 499.5h.01M1134.49 517.5h.01M1135.49 500.5h.01M1136.49 493.5h.01M1137.49 491.5h.01M1138.49 515.5h.01M1139.49 499.5h.01M1140.49 487.5h.01M1141.49 505.5h.01M1142.49 507.5h.01M1143.49 502.5h.01M1144.49 518.5h.01M1145.49 513.5h.01M1146.49 490.5h.01M1147.49 491.5h.01M1148.49 498.5h.01M1149.49 505.5h.01M1150.49 504.5h.01M1151.49 508.5h.01M1152.49 498.5h.01M1153.49 487.5h.01M1154.49 509.5h.01M1155.49 484.5h.01M1156.49 498.5h.01M1157.49 493.5h.01M1158.49 500.5h.01M1159.49 513.5h.01M1160.49 509.5h.01M1161.49 491.5h.01M1162.49 500.5h.01M1163.49 510.5h.01M1164.49 489.5h.01M1165.49 495.5h.01M1166.49 490.5h.01M1167.49 502.5h.01M1168.49 497.5h.01M1169.49 504.5h.01M1170.49 496.5h.01M1171.49 505.5h.01M1172.49 490.5h.01M1173.49 509.5h.01M1174.49 512.5h.01M1175.49 494.5h.01M1176.49 497.5h.01M1177.49 501.5h.01M1178.49 487.5h.01M1179.49 499.5h.01M1180.49 488.5h.01M1181.49 503.5h.01M1182.49 495.5h.01M1183.49 498.5h.01M1184.49 508.5h.01M1185.49 482.5h.01M1186.49 502.5h.01M1187.49 493.5h.01M1188.49 491.5h.01M1189.49 485.5h.01M1190.49 481.5h.01M1191.49 485.5h.01M1192.49 492.5h.01M1193.49 475.5h.01M1194.49 489.5h.01M1195.49 504.5h.01M1196.49 495.5h.01M1197.49 499.5h.01M1198.49 494.5h.01M1199.49 474.5h.01M1200.49 494.5h.01M1201.49 478.5h.01M1202.49 498.5h.01M1203.49 491.5h.01M1204.49 486.5h.01M1205.49 486.5h.01M1206.49 476.5h.01M1207.49 489.5h.01M1208.49 476.5h.01M1209.49 475.5h.01M1210.49 470.5h.01M1211.49 497.5h.01M1212.49 494.5h.01M1213.49 468.5h.01M1214.49 469.5h.01M1215.49 476.5h.01M1216.49 478.5h.01M1217.49 473.5h.01M1218.49 485.5h.01M1219.49 481.5h.01M1220.49 483.5h.01M1221.49 472.5h.01M1222.49 487.5h.01M1223.49 475.5h.01M1224.49 476.5h.01M1225.49 479.5h.01M1226.49 491.5h.01M1227.49 470.5h.01M1228.49 488.5h.01M1229.49 470.5h.01M1230.49 493.5h.01M1231.49 479.5h.01M1232.49 480.5h.01M1233.49 489.5h.01M1234.49 485.5h.01M1235.49 471.5h.01M1236.49 474.5h.01M1237.49 496.5h.01M1238.49 471.5h.01M1239.49 475.5h.01M1240.49 495.5h.01M1241.49 464.5h.01M1242.49 474.5h.01M1243.49 473.5h.01M1244.49 468.5h.01M1245.49 483.5h.01M1246.49 485.5h.01M1247.49 468.5h.01M1248.49 469.5h.01M1249.49 485.5h.01M1250.49 491.5h.01M1251.49 487.5h.01M1252.49 468.5h.01M1253.49 480.5h.01M1254.49 481.5h.01M1255.49 477.5h.01M1256.49 490.5h.01M1257.49 478.5h.01M1258.49 476.5h.01M1259.49 471.5h.01M1260.49 478.5h.01M1261.49 486.5h.01M1262.49 488.5h.01M1263.49 474.5h.01M1264.49 491.5h.01M1265.49 485.5h.01M1266.49 478.5h.01M1267.49 480.5h.01M1268.49 495.5h.01M1269.49 473.5h.01M1270.49 491.5h.01M1271.49 495.5h.01M1272.49 490.5h.01M1273.49 500.5h.01M1274.49 492.5h.01M1275.49 490.5h.01M1276.49 487.5h.01M1277.49 505.5h.01M1278.49 491.5h.01M1279.49 493.5h.01M1280.49 493.5h.01M1281.49 504.5h.01M1282.49 505.5h.01M1283.49 478.5h.01M1284.49 502.5h.01M1285.49 495.5h.01M1286.49 479.5h.01M1287.49 494.5h.01M1288.49 477.5h.01M1289.49 498.5h.01M1290.49 484.5h.01M1291.49 488.5h.01M1292.49 484.5h.01M1293.49 492.5h.01M1294.49 497.5h.01M1295.49 501.5h.01M1296.49 485.5h.01M1297.49 490.5h.01M1298.49 471.5h.01M1299.49 483.5h.01M1300.49 498.5h.01M1301.49 476.5h.01M1302.49 501.5h.01M1303.49 491.5h.01M493.5 479.5h.01M458.5 565.5h.01M546.5 573.5h.01M526.5 551.5h.01M620.5 573.5h.01M734.5 587.5h.01M641.5 508.5h.01M661.5 510.5h.01M678.5 502.5h.01M777.5 500.5h.01M1238.49 553.5h.01M329.5 491.5h.01M341.5 489.5h.01M1063.49 584.5h.01" stroke="#000" stroke-width="3.6" stroke-linecap="round" fill="none" clip-path="url(#c2)"/>
<rect x="100.1" y="499.2" width="1260.2" height="49" fill="#f00" fill-opacity="0.1" stroke="#f00" stroke-opacity="0.1" stroke-width="1.39" clip-path="url(#c2)"/>
<path d="M663.5 600.5h.01M955.5 629.5h.01M1033.49 612.5h.01M1273.49 643.5h.01" stroke="#ffa500" stroke-width="3.7" stroke-linecap="round" fill="none" clip-path="url(#c2)"/>
<path d="M216.1 660.8l5.8 0l-2.9 5.4zM409.6 660.8l5.8 0l-2.9 5.4zM569.6 660.8l5.8 0l-2.9 5.4zM637.6 660.8l5.8 0l-2.9 5.4zM712.5 660.8l5.8 0l-2.9 5.4zM975.6 660.8l5.8 0l-2.9 5.4zM1033.6 660.8l5.8 0l-2.9 5.4zM1259.6 660.8l5.8 0l-2.9 5.4zM1278.6 660.8l5.8 0l-2.9 5.4z" fill="#ffa500" stroke="#ffa500" stroke-width="0.5" stroke-linejoin="round" clip-path="url(#c2)"/>
<path d="M162.05 666.03V377.4" stroke="#800080" stroke-width="2.08" stroke-dasharray="2.0833 3.4375" fill="none" clip-path="url(#c2)"/>
<path d="M1302.92 666.03V377.4" stroke="#800080" stroke-width="2.08" stroke-dasharray="2.0833 3.4375" fill="none" clip-path="url(#c2)"/>
<path d="M160.75 524.4H1304.9" stroke="#ffa500" stroke-width="2.78" fill="none"/>
<path d="M105.1 523H1361" stroke="#f00" stroke-width="2.08" fill="none"/>
<rect x="162.15" y="499.2" width="1141.25" height="49" fill="#ffa500" fill-opacity="0.1" stroke="#ffa500" stroke-opacity="0.1" stroke-width="1.39"/>
<rect x="105.5" y="380.5" width="1380" height="286" fill="none" stroke="#000" stroke-width="1.11"/>
<path d="M162.5 666.5v4.86M339.5 666.5v4.86M517.5 666.5v4.86M695.5 666.5v4.86M873.5 666.5v4.86M1050.5 666.5v4.86M1228.5 666.5v4.86M1406.5 666.5v4.86" stroke="#000" stroke-width="1.11" fill="none"/>
<text x="163.4" y="687" text-anchor="middle">0</text>
<text x="339.4" y="687" text-anchor="middle">200</text>
<text x="517.7" y="687" text-anchor="middle">400</text>
<text x="695.5" y="687" text-anchor="middle">600</text>
<text x="872.9" y="687" text-anchor="middle">800</text>
<text x="1050.5" y="687" text-anchor="middle">1000</text>
<text x="1228.5" y="687" text-anchor="middle">1200</text>
<text x="1405.5" y="687" text-anchor="middle">1400</text>
<path d="M105.5 620.5h-4.86M105.5 566.5h-4.86M105.5 513.5h-4.86M105.5 459.5h-4.86M105.5 406.5h-4.86" stroke="#000" stroke-width="1.11" fill="none"/>
<text x="95.38" y="624.8" text-anchor="end">8.85</text>
<text x="95.38" y="570.8" text-anchor="end">8.90</text>
<text x="95.38" y="517.8" text-anchor="end">8.95</text>
<text x="95.38" y="463.8" text-anchor="end">9.00</text>
<text x="95.38" y="410.8" text-anchor="end">9.05</text>
<text x="733" y="656.8" text-anchor="middle">41987</text>
<text x="794.55" y="371.97" text-anchor="middle" font-size="16.67">Magnitude Estimates</text>
<rect x="1365.4" y="387.5" width="113.3" height="48.1" rx="2.78" fill="#fff" fill-opacity="0.8" stroke="#ccc" stroke-opacity="0.8" stroke-width="1.39"/>
<path d="M1369 399.5H1400" stroke="#ffa500" stroke-width="2.78" fill="none"/>
<path d="M1369 421.9H1399.2" stroke="#f00" stroke-width="2.08" fill="none"/>
<text x="1409.6" y="403.8">mag<tspan font-style="italic" font-size="9.72" dy="2.2">OBSID</tspan></text>
<text x="1409.1" y="426.7">mag</text>
<rect x="1348.3" y="613.3" width="130.4" height="45.9" rx="2.78" fill="#fff" fill-opacity="0.8" stroke="#ccc" stroke-opacity="0.8" stroke-width="1.39"/>
<path d="M1367.49 626.5h.01" stroke="#ffa500" stroke-width="3.9" stroke-linecap="round" fill="none"/>
<text x="1393.1" y="629.7">Highlighted</text>
<path d="M1367.49 647.5h.01" stroke="#000" stroke-width="3.9" stroke-linecap="round" fill="none"/>
<text x="1393.1" y="650.8">OK</text>
</g>
<g>
<path d="M162.5 763.5h.01M163.5 763.5h.01M164.5 763.5h.01M165.5 763.5h.01M166.5 763.5h.01M167.5 763.5h.01M168.5 763.5h.01M169.5 763.5h.01M170.5 763.5h.01M171.5 763.5h.01M172.5 763.5h.01M173.5 763.5h.01M174.5 763.5h.01M175.5 763.5h.01M176.5 763.5h.01M177.5 763.5h.01M178.5 763.5h.01M179.5 763.5h.01M180.5 763.5h.01M181.5 763.5h.01M182.5 763.5h.01M183.5 763.5h.01M184.5 763.5h.01M185.5 763.5h.01M186.5 763.5h.01M187.5 763.5h.01M188.5 763.5h.01M189.5 763.5h.01M190.5 763.5h.01M191.5 763.5h.01M192.5 763.5h.01M193.5 763.5h.01M194.5 763.5h.01M195.5 763.5h.01M196.5 763.5h.01M197.5 763.5h.01M198.5 763.5h.01M199.5 763.5h.01M200.5 763.5h.01M201.5 763.5h.01M202.5 763.5h.01" stroke="#000" stroke-width="3" stroke-linecap="round" fill="none" clip-path="url(#c3)"/>
<path d="M254.5 840.5h.01M530.5 840.5h.01M785.5 840.5h.01M839.5 840.5h.01M891.5 840.5h.01M895.5 840.5h.01M910.5 840.5h.01M912.5 840.5h.01M942.5 840.5h.01M986.5 840.5h.01M996.5 840.5h.01M1018.5 840.5h.01M1035.49 840.5h.01M1152.49 840.5h.01M1163.49 840.5h.01M1169.49 840.5h.01M1189.49 840.5h.01M1216.49 840.5h.01M1234.49 840.5h.01" stroke="#000" stroke-width="3" stroke-linecap="round" fill="none" clip-path="url(#c3)"/>
<path d="M254.5 878.5h.01M530.5 878.5h.01M785.5 878.5h.01M839.5 878.5h.01M891.5 878.5h.01M895.5 878.5h.01M910.5 878.5h.01M912.5 878.5h.01M942.5 878.5h.01M986.5 878.5h.01M996.5 878.5h.01M1018.5 878.5h.01M1035.49 878.5h.01M1152.49 878.5h.01M1163.49 878.5h.01M1169.49 878.5h.01M1189.49 878.5h.01M1216.49 878.5h.01M1234.49 878.5h.01" stroke="#000" stroke-width="3" stroke-linecap="round" fill="none" clip-path="url(#c3)"/>
<path d="M202.5 1004.5h.01M202.5 1004.5h.01M203.5 1005.5h.01M204.5 1006.5h.01M205.5 998.5h.01M205.5 999.5h.01M206.5 999.5h.01M207.5 1000.5h.01M208.5 1000.5h.01M209.5 1002.5h.01M210.5 1001.5h.01M211.5 1001.5h.01M212.5 1000.5h.01M213.5 1000.5h.01M214.5 1000.5h.01M214.5 1000.5h.01M215.5 1000.5h.01M216.5 999.5h.01M217.5 998.5h.01M218.5 997.5h.01M219.5 997.5h.01M220.5 998.5h.01M221.5 998.5h.01M222.5 998.5h.01M223.5 998.5h.01M223.5 998.5h.01M224.5 998.5h.01M225.5 998.5h.01M226.5 997.5h.01M227.5 998.5h.01M228.5 997.5h.01M229.5 997.5h.01M230.5 999.5h.01M231.5 1000.5h.01M232.5 1002.5h.01M232.5 1002.5h.01M233.5 1002.5h.01M234.5 1003.5h.01M235.5 1003.5h.01M236.5 1004.5h.01M237.5 1005.5h.01M238.5 1005.5h.01M239.5 1005.5h.01M240.5 1006.5h.01M241.5 1006.5h.01M241.5 1007.5h.01M242.5 1007.5h.01M243.5 1008.5h.01M245.5 997.5h.01M246.5 997.5h.01M247.5 997.5h.01M248.5 997.5h.01M249.5 998.5h.01M250.5 999.5h.01M251.5 998.5h.01M251.5 998.5h.01M252.5 998.5h.01M253.5 997.5h.01M254.5 998.5h.01M255.5 999.5h.01M256.5 999.5h.01M257.5 1000.5h.01M258.5 1000.5h.01M259.5 1001.5h.01M260.5 1001.5h.01M260.5 1002.5h.01M261.5 1003.5h.01M262.5 1004.5h.01M263.5 1003.5h.01M264.5 1004.5h.01M265.5 1005.5h.01M266.5 1005.5h.01M267.5 1006.5h.01M269.5 997.5h.01M269.5 997.5h.01M270.5 998.5h.01M271.5 999.5h.01M272.5 999.5h.01M273.5 999.5h.01M274.5 999.5h.01M275.5 1001.5h.01M276.5 1001.5h.01M277.5 1001.5h.01M277.5 1002.5h.01M278.5 1002.5h.01M279.5 1002.5h.01M280.5 1002.5h.01M281.5 1003.5h.01M282.5 1004.5h.01M283.5 1003.5h.01M284.5 1004.5h.01M285.5 1004.5h.01M286.5 1005.5h.01M286.5 1005.5h.01M287.5 1005.5h.01M288.5 1005.5h.01M289.5 1005.5h.01M290.5 1006.5h.01M291.5 1006.5h.01M293.5 999.5h.01M294.5 999.5h.01M295.5 1000.5h.01M296.5 1000.5h.01M296.5 1001.5h.01M297.5 1001.5h.01M298.5 1002.5h.01M299.5 1002.5h.01M300.5 1003.5h.01M301.5 1003.5h.01M302.5 1005.5h.01M303.5 1005.5h.01M304.5 1005.5h.01M305.5 1005.5h.01M305.5 1006.5h.01M306.5 1006.5h.01M307.5 1007.5h.01M308.5 1006.5h.01M309.5 1006.5h.01M310.5 1006.5h.01M311.5 1005.5h.01M312.5 1004.5h.01M313.5 1004.5h.01M314.5 1003.5h.01M314.5 1004.5h.01M315.5 1004.5h.01M316.5 1003.5h.01M317.5 1003.5h.01M318.5 1003.5h.01M319.5 1003.5h.01M320.5 1007.5h.01M320.5 1007.5h.01M321.5 1006.5h.01M322.5 1006.5h.01M323.5 1006.5h.01M324.5 1006.5h.01M325.5 1006.5h.01M326.5 1005.5h.01M327.5 1004.5h.01M328.5 1004.5h.01M328.5 1003.5h.01M329.5 1002.5h.01M330.5 1002.5h.01M331.5 1002.5h.01M332.5 1001.5h.01M333.5 1000.5h.01M334.5 1000.5h.01M335.5 1000.5h.01M336.5 1000.5h.01M337.5 1000.5h.01M337.5 1000.5h.01M338.5 1001.5h.01M339.5 1002.5h.01M340.5 1002.5h.01M341.5 1002.5h.01M342.5 1003.5h.01M343.5 1004.5h.01M344.5 1004.5h.01M345.5 1004.5h.01M346.5 1004.5h.01M346.5 1004.5h.01M347.5 1005.5h.01M348.5 1004.5h.01M349.5 1004.5h.01M350.5 1004.5h.01M351.5 1004.5h.01M352.5 1004.5h.01M353.5 1002.5h.01M354.5 1003.5h.01M355.5 1002.5h.01M355.5 1002.5h.01M356.5 1001.5h.01M357.5 1001.5h.01M358.5 1001.5h.01M359.5 1000.5h.01M360.5 1000.5h.01M361.5 999.5h.01M362.5 999.5h.01M363.5 999.5h.01M364.5 998.5h.01M364.5 999.5h.01M365.5 998.5h.01M368.5 1003.5h.01M368.5 1003.5h.01M369.5 1004.5h.01M370.5 1005.5h.01M371.5 1005.5h.01M372.5 1005.5h.01M373.5 1006.5h.01M374.5 1005.5h.01M375.5 1006.5h.01M376.5 1005.5h.01M376.5 1006.5h.01M377.5 1005.5h.01M378.5 1005.5h.01M379.5 1005.5h.01M380.5 1004.5h.01M381.5 1004.5h.01M382.5 1004.5h.01M383.5 1004.5h.01M384.5 1003.5h.01M385.5 1003.5h.01M385.5 1003.5h.01M386.5 1003.5h.01M387.5 1003.5h.01M388.5 1002.5h.01M389.5 1003.5h.01M390.5 1002.5h.01M391.5 1003.5h.01M392.5 1003.5h.01M393.5 1003.5h.01M394.5 1002.5h.01M394.5 1002.5h.01M395.5 1002.5h.01M396.5 1002.5h.01M397.5 1002.5h.01M398.5 1002.5h.01M399.5 1002.5h.01M400.5 1001.5h.01M401.5 1001.5h.01M402.5 1001.5h.01M403.5 1000.5h.01M403.5 1001.5h.01M404.5 1000.5h.01M405.5 1000.5h.01M407.5 1004.5h.01M407.5 1003.5h.01M408.5 1004.5h.01M409.5 1004.5h.01M410.5 1004.5h.01M411.5 1005.5h.01M412.5 1004.5h.01M413.5 1004.5h.01M414.5 1005.5h.01M415.5 1005.5h.01M415.5 1005.5h.01M416.5 1005.5h.01M417.5 1006.5h.01M418.5 1006.5h.01M419.5 1005.5h.01M420.5 1006.5h.01M421.5 1006.5h.01M422.5 1005.5h.01M423.5 1006.5h.01M424.5 1005.5h.01M424.5 1005.5h.01M425.5 1005.5h.01M426.5 1005.5h.01M427.5 1006.5h.01M428.5 1005.5h.01M429.5 1005.5h.01M430.5 1005.5h.01M431.5 1005.5h.01M432.5 1006.5h.01M433.5 1005.5h.01M433.5 1005.5h.01M434.5 1005.5h.01M435.5 1005.5h.01M436.5 1005.5h.01M437.5 1006.5h.01M438.5 1005.5h.01M439.5 1005.5h.01M440.5 1005.5h.01M441.5 1005.5h.01M442.5 1006.5h.01M442.5 1006.5h.01M443.5 1006.5h.01M444.5 1006.5h.01M445.5 1006.5h.01M446.5 1006.5h.01M447.5 1006.5h.01M448.5 1006.5h.01M449.5 1006.5h.01M451.5 998.5h.01M451.5 999.5h.01M452.5 999.5h.01M453.5 999.5h.01M454.5 1000.5h.01M455.5 1001.5h.01M456.5 1001.5h.01M457.5 1001.5h.01M458.5 1002.5h.01M459.5 1002.5h.01M459.5 1002.5h.01M460.5 1003.5h.01M461.5 1004.5h.01M462.5 1004.5h.01M463.5 1005.5h.01M464.5 1005.5h.01M465.5 1005.5h.01M466.5 1006.5h.01M468.5 998.5h.01M469.5 999.5h.01M470.5 1000.5h.01M471.5 1000.5h.01M471.5 1001.5h.01M472.5 1001.5h.01M473.5 1002.5h.01M474.5 1002.5h.01M475.5 1002.5h.01M477.5 996.5h.01M478.5 997.5h.01M479.5 997.5h.01M480.5 997.5h.01M480.5 999.5h.01M481.5 999.5h.01M482.5 999.5h.01M483.5 1000.5h.01M484.5 1001.5h.01M485.5 1001.5h.01M486.5 1002.5h.01M487.5 1003.5h.01M488.5 1003.5h.01M489.5 1003.5h.01M489.5 1004.5h.01M490.5 1002.5h.01M490.5 1002.5h.01M491.5 1002.5h.01M492.5 1003.5h.01M493.5 1003.5h.01M494.5 1003.5h.01M495.5 1003.5h.01M496.5 1003.5h.01M497.5 1003.5h.01M498.5 1003.5h.01M498.5 1004.5h.01M499.5 1003.5h.01M500.5 1004.5h.01M501.5 1004.5h.01M502.5 1004.5h.01M503.5 1005.5h.01M504.5 1005.5h.01M505.5 1005.5h.01M506.5 1005.5h.01M507.5 1005.5h.01M507.5 1005.5h.01M508.5 1006.5h.01M509.5 1005.5h.01M510.5 1004.5h.01M511.5 1005.5h.01M512.5 1004.5h.01M513.5 1005.5h.01M514.5 1004.5h.01M515.5 1003.5h.01M516.5 1004.5h.01M516.5 1003.5h.01M517.5 1003.5h.01M518.5 1003.5h.01M519.5 1002.5h.01M521.5 1006.5h.01M521.5 1006.5h.01M522.5 1005.5h.01M523.5 1005.5h.01M524.5 1004.5h.01M525.5 1004.5h.01M526.5 1004.5h.01M527.5 1003.5h.01M528.5 1002.5h.01M529.5 1002.5h.01M529.5 1001.5h.01M530.5 1000.5h.01M531.5 1000.5h.01M532.5 999.5h.01M533.5 998.5h.01M534.5 998.5h.01M535.5 996.5h.01M536.5 996.5h.01M538.5 1002.5h.01M538.5 1001.5h.01M539.5 1001.5h.01M540.5 1001.5h.01M541.5 1001.5h.01M542.5 1001.5h.01M543.5 1000.5h.01M545.5 1008.5h.01M545.5 1007.5h.01M546.5 1006.5h.01M547.5 1005.5h.01M548.5 1005.5h.01M549.5 1004.5h.01M550.5 1003.5h.01M551.5 1003.5h.01M552.5 1002.5h.01M553.5 1002.5h.01M553.5 1002.5h.01M554.5 1002.5h.01M555.5 1001.5h.01M556.5 1001.5h.01M557.5 1001.5h.01M558.5 1000.5h.01M559.5 1000.5h.01M560.5 1000.5h.01M561.5 1000.5h.01M562.5 1000.5h.01M562.5 999.5h.01M563.5 998.5h.01M564.5 998.5h.01M565.5 997.5h.01M566.5 998.5h.01M567.5 997.5h.01M568.5 997.5h.01M569.5 997.5h.01M571.5 1006.5h.01M571.5 1006.5h.01M572.5 1005.5h.01M573.5 1004.5h.01M574.5 1005.5h.01M575.5 1004.5h.01M576.5 1004.5h.01M577.5 1003.5h.01M578.5 1003.5h.01M579.5 1003.5h.01M579.5 1003.5h.01M580.5 1002.5h.01M581.5 1003.5h.01M582.5 1002.5h.01M583.5 1003.5h.01M584.5 1001.5h.01M585.5 1002.5h.01M586.5 1002.5h.01M587.5 1001.5h.01M588.5 1001.5h.01M588.5 1001.5h.01M589.5 1001.5h.01M590.5 1000.5h.01M591.5 1000.5h.01M592.5 1000.5h.01M593.5 1000.5h.01M594.5 1000.5h.01M595.5 999.5h.01M596.5 999.5h.01M597.5 999.5h.01M597.5 999.5h.01M598.5 998.5h.01M599.5 999.5h.01M600.5 998.5h.01M601.5 999.5h.01M602.5 999.5h.01M603.5 1000.5h.01M604.5 1000.5h.01M605.5 1000.5h.01M606.5 999.5h.01M606.5 1000.5h.01M607.5 1000.5h.01M608.5 1000.5h.01M609.5 1000.5h.01M610.5 1000.5h.01M611.5 1000.5h.01M612.5 1000.5h.01M613.5 1001.5h.01M614.5 1000.5h.01M615.5 1000.5h.01M615.5 1001.5h.01M616.5 1000.5h.01M617.5 1000.5h.01M618.5 1000.5h.01M619.5 1000.5h.01M620.5 1000.5h.01M621.5 1000.5h.01M622.5 1000.5h.01M623.5 1000.5h.01M624.5 1000.5h.01M624.5 999.5h.01M625.5 999.5h.01M626.5 999.5h.01M627.5 999.5h.01M628.5 999.5h.01M629.5 999.5h.01M630.5 1000.5h.01M631.5 1000.5h.01M632.5 1000.5h.01M633.5 1000.5h.01M633.5 1000.5h.01M634.5 1001.5h.01M635.5 1001.5h.01M636.5 1001.5h.01M637.5 1002.5h.01M638.5 1001.5h.01M639.5 1002.5h.01M640.5 1002.5h.01M641.5 1001.5h.01M642.5 1002.5h.01M642.5 1002.5h.01M643.5 1001.5h.01M644.5 1001.5h.01M646.5 996.5h.01M646.5 996.5h.01M647.5 996.5h.01M648.5 997.5h.01M649.5 998.5h.01M650.5 999.5h.01M651.5 1000.5h.01M652.5 1001.5h.01M653.5 1002.5h.01M654.5 1002.5h.01M654.5 1003.5h.01M655.5 1004.5h.01M656.5 1004.5h.01M657.5 1005.5h.01M658.5 1005.5h.01M659.5 1006.5h.01M661.5 1002.5h.01M661.5 1003.5h.01M662.5 1003.5h.01M663.5 1004.5h.01M664.5 1004.5h.01M665.5 1005.5h.01M666.5 1005.5h.01M667.5 1006.5h.01M668.5 1007.5h.01M669.5 1007.5h.01M669.5 1008.5h.01M670.5 1007.5h.01M671.5 1006.5h.01M672.5 1006.5h.01M673.5 1005.5h.01M674.5 1004.5h.01M675.5 1003.5h.01M676.5 1003.5h.01M677.5 1001.5h.01M678.5 1001.5h.01M678.5 1002.5h.01M679.5 1003.5h.01M680.5 1003.5h.01M681.5 1004.5h.01M682.5 1005.5h.01M683.5 1006.5h.01M684.5 1007.5h.01M685.5 1007.5h.01M686.5 1008.5h.01M687.5 1007.5h.01M687.5 1006.5h.01M688.5 1006.5h.01M689.5 1006.5h.01M690.5 1005.5h.01M691.5 1005.5h.01M692.5 1004.5h.01M693.5 1005.5h.01M694.5 1005.5h.01M695.5 1004.5h.01M696.5 1004.5h.01M696.5 1004.5h.01M697.5 1004.5h.01M698.5 1003.5h.01M699.5 1004.5h.01M700.5 1003.5h.01M701.5 1003.5h.01M702.5 1003.5h.01M703.5 1003.5h.01M704.5 1002.5h.01M705.5 1003.5h.01M705.5 1002.5h.01M706.5 1002.5h.01M707.5 1002.5h.01M708.5 1002.5h.01M709.5 1002.5h.01M710.5 1002.5h.01M711.5 1002.5h.01M712.5 1003.5h.01M713.5 1002.5h.01M714.5 1003.5h.01M714.5 1004.5h.01M715.5 1004.5h.01M716.5 1002.5h.01M717.5 1002.5h.01M718.5 1002.5h.01M719.5 1002.5h.01M720.5 1001.5h.01M721.5 1001.5h.01M722.5 1001.5h.01M724.5 1006.5h.01M724.5 1006.5h.01M725.5 1006.5h.01M726.5 1005.5h.01M727.5 1005.5h.01M728.5 1004.5h.01M729.5 1004.5h.01M730.5 1004.5h.01M731.5 1004.5h.01M732.5 1004.5h.01M732.5 1002.5h.01M733.5 1002.5h.01M734.5 1002.5h.01M735.5 1002.5h.01M736.5 1001.5h.01M737.5 1001.5h.01M738.5 1000.5h.01M739.5 1000.5h.01M740.5 1000.5h.01M741.5 999.5h.01M741.5 999.5h.01M742.5 998.5h.01M743.5 998.5h.01M744.5 998.5h.01M745.5 997.5h.01M746.5 997.5h.01M747.5 997.5h.01M748.5 997.5h.01M750.5 1000.5h.01M750.5 1000.5h.01M751.5 1000.5h.01M752.5 1000.5h.01M753.5 1000.5h.01M754.5 1000.5h.01M755.5 1000.5h.01M756.5 1001.5h.01M757.5 1000.5h.01M758.5 1001.5h.01M758.5 1001.5h.01M759.5 1000.5h.01M760.5 1000.5h.01M761.5 1001.5h.01M762.5 1001.5h.01M763.5 1000.5h.01M764.5 1001.5h.01M765.5 1001.5h.01M766.5 1000.5h.01M767.5 1000.5h.01M767.5 1001.5h.01M768.5 1000.5h.01M769.5 1000.5h.01M770.5 1000.5h.01M771.5 1000.5h.01M772.5 993.5h.01M772.5 993.5h.01M773.5 994.5h.01M774.5 994.5h.01M775.5 994.5h.01M776.5 994.5h.01M778.5 1001.5h.01M778.5 1001.5h.01M779.5 1000.5h.01M780.5 1001.5h.01M781.5 1001.5h.01M782.5 1001.5h.01M783.5 1000.5h.01M784.5 999.5h.01M785.5 998.5h.01M786.5 999.5h.01M786.5 998.5h.01M787.5 999.5h.01M788.5 998.5h.01M789.5 999.5h.01M790.5 999.5h.01M790.5 999.5h.01M791.5 1000.5h.01M792.5 1000.5h.01M793.5 1000.5h.01M794.5 1000.5h.01M795.5 1000.5h.01M796.5 999.5h.01M797.5 998.5h.01M798.5 998.5h.01M798.5 998.5h.01M799.5 998.5h.01M800.5 999.5h.01M802.5 1006.5h.01M802.5 1006.5h.01M803.5 1007.5h.01M804.5 1008.5h.01M805.5 1008.5h.01M806.5 1008.5h.01M807.5 1007.5h.01M808.5 1006.5h.01M809.5 1005.5h.01M810.5 1004.5h.01M810.5 1004.5h.01M811.5 1004.5h.01M812.5 1004.5h.01M813.5 1004.5h.01M814.5 1003.5h.01M815.5 1003.5h.01M816.5 1003.5h.01M817.5 1003.5h.01M818.5 1003.5h.01M819.5 1003.5h.01M819.5 1004.5h.01M820.5 1003.5h.01M821.5 1004.5h.01M822.5 1003.5h.01M823.5 1003.5h.01M824.5 1004.5h.01M825.5 1004.5h.01M826.5 1004.5h.01M827.5 1004.5h.01M828.5 1004.5h.01M828.5 1004.5h.01M829.5 1005.5h.01M830.5 1005.5h.01M831.5 1005.5h.01M832.5 1005.5h.01M833.5 1006.5h.01M834.5 1007.5h.01M835.5 1006.5h.01M836.5 1006.5h.01M837.5 1005.5h.01M837.5 1005.5h.01M838.5 1004.5h.01M839.5 1004.5h.01M840.5 1003.5h.01M841.5 1002.5h.01M842.5 1001.5h.01M843.5 1000.5h.01M844.5 999.5h.01M845.5 999.5h.01M846.5 1000.5h.01M846.5 1000.5h.01M847.5 1001.5h.01M848.5 1002.5h.01M849.5 1003.5h.01M850.5 1003.5h.01M851.5 1004.5h.01M852.5 1005.5h.01M853.5 1005.5h.01M854.5 1006.5h.01M855.5 1006.5h.01M855.5 1007.5h.01M856.5 1006.5h.01M857.5 1007.5h.01M858.5 1008.5h.01M859.5 1008.5h.01M860.5 1008.5h.01M861.5 1008.5h.01M862.5 999.5h.01M863.5 999.5h.01M864.5 1000.5h.01M865.5 1000.5h.01M865.5 1000.5h.01M866.5 1001.5h.01M867.5 1001.5h.01M868.5 1002.5h.01M869.5 1002.5h.01M870.5 1002.5h.01M871.5 1002.5h.01M872.5 998.5h.01M873.5 998.5h.01M874.5 999.5h.01M875.5 1000.5h.01M875.5 1000.5h.01M876.5 1001.5h.01M877.5 1001.5h.01M878.5 1000.5h.01M879.5 999.5h.01M880.5 999.5h.01M881.5 999.5h.01M882.5 999.5h.01M883.5 1000.5h.01M884.5 1001.5h.01M884.5 1001.5h.01M885.5 1002.5h.01M886.5 1002.5h.01M887.5 1002.5h.01M888.5 1003.5h.01M889.5 1003.5h.01M890.5 1004.5h.01M891.5 1004.5h.01M892.5 1005.5h.01M893.5 1005.5h.01M893.5 1005.5h.01M894.5 1004.5h.01M895.5 1004.5h.01M896.5 1004.5h.01M897.5 1004.5h.01M898.5 1005.5h.01M899.5 1005.5h.01M900.5 1005.5h.01M901.5 1005.5h.01M902.5 1006.5h.01M902.5 1006.5h.01M904.5 1001.5h.01M905.5 1001.5h.01M906.5 1002.5h.01M907.5 1003.5h.01M907.5 1004.5h.01M908.5 1004.5h.01M909.5 1004.5h.01M910.5 1005.5h.01M911.5 1005.5h.01M912.5 1005.5h.01M913.5 1007.5h.01M914.5 1007.5h.01M915.5 1007.5h.01M916.5 1007.5h.01M916.5 1007.5h.01M917.5 1007.5h.01M918.5 1008.5h.01M919.5 1008.5h.01M920.5 1007.5h.01M921.5 1008.5h.01M922.5 1007.5h.01M923.5 1007.5h.01M924.5 1006.5h.01M925.5 1006.5h.01M925.5 1006.5h.01M926.5 1005.5h.01M927.5 1005.5h.01M928.5 1003.5h.01M929.5 1003.5h.01M930.5 1003.5h.01M931.5 1002.5h.01M932.5 1002.5h.01M933.5 1002.5h.01M934.5 1002.5h.01M934.5 1003.5h.01M935.5 1005.5h.01M936.5 1006.5h.01M937.5 1006.5h.01M938.5 1007.5h.01M939.5 1007.5h.01M940.5 1008.5h.01M941.5 1008.5h.01M942.5 1007.5h.01M943.5 1007.5h.01M943.5 1006.5h.01M944.5 1005.5h.01M945.5 1004.5h.01M946.5 1004.5h.01M947.5 1003.5h.01M948.5 1003.5h.01M949.5 1001.5h.01M950.5 1001.5h.01M951.5 1000.5h.01M952.5 999.5h.01M952.5 998.5h.01M953.5 997.5h.01M954.5 999.5h.01M955.5 999.5h.01M956.5 999.5h.01M957.5 1001.5h.01M958.5 1001.5h.01M959.5 1002.5h.01M960.5 1002.5h.01M961.5 1002.5h.01M961.5 1003.5h.01M962.5 1003.5h.01M963.5 1003.5h.01M964.5 1003.5h.01M965.5 1002.5h.01M966.5 1002.5h.01M967.5 1002.5h.01M968.5 1002.5h.01M969.5 1003.5h.01M970.5 1004.5h.01M970.5 1004.5h.01M971.5 1005.5h.01M972.5 1006.5h.01M973.5 1007.5h.01M974.5 1007.5h.01M975.5 1007.5h.01M976.5 1008.5h.01M977.5 1008.5h.01M978.5 1008.5h.01M979.5 1007.5h.01M979.5 1007.5h.01M980.5 1006.5h.01M981.5 1006.5h.01M982.5 1005.5h.01M983.5 1005.5h.01M984.5 1004.5h.01M985.5 1003.5h.01M986.5 1003.5h.01M987.5 1003.5h.01M988.5 1002.5h.01M988.5 1003.5h.01M989.5 1003.5h.01M990.5 1004.5h.01M991.5 1004.5h.01M992.5 1003.5h.01M993.5 1003.5h.01M994.5 1004.5h.01M995.5 1004.5h.01M996.5 1004.5h.01M997.5 1004.5h.01M997.5 1004.5h.01M998.5 1004.5h.01M999.5 1005.5h.01M1000.5 1005.5h.01M1001.5 1005.5h.01M1002.5 1005.5h.01M1003.5 1005.5h.01M1004.5 1005.5h.01M1005.5 1006.5h.01M1006.5 1006.5h.01M1006.5 1005.5h.01M1007.5 1005.5h.01M1008.5 1005.5h.01M1009.5 1004.5h.01M1010.5 1004.5h.01M1011.5 1003.5h.01M1012.5 1003.5h.01M1013.5 1003.5h.01M1014.5 1002.5h.01M1015.5 1001.5h.01M1015.5 1001.5h.01M1016.5 1001.5h.01M1017.5 1000.5h.01M1018.5 1000.5h.01M1019.5 1000.5h.01M1020.5 1000.5h.01M1021.5 1000.5h.01M1022.5 1001.5h.01M1023.5 1001.5h.01M1024.49 1002.5h.01M1024.49 1002.5h.01M1025.49 1003.5h.01M1026.49 1003.5h.01M1027.49 1003.5h.01M1028.49 1004.5h.01M1029.49 1004.5h.01M1030.49 1005.5h.01M1031.49 1004.5h.01M1032.49 1005.5h.01M1033.49 1005.5h.01M1033.49 1005.5h.01M1034.49 1005.5h.01M1035.49 1006.5h.01M1036.49 1005.5h.01M1037.49 1005.5h.01M1038.49 1006.5h.01M1039.49 1005.5h.01M1040.49 1005.5h.01M1040.49 1004.5h.01M1041.49 1005.5h.01M1042.49 1004.5h.01M1043.49 1004.5h.01M1044.49 1005.5h.01M1045.49 1005.5h.01M1046.49 1006.5h.01M1047.49 1005.5h.01M1048.49 1005.5h.01M1049.49 1005.5h.01M1049.49 1006.5h.01M1050.49 1005.5h.01M1051.49 1004.5h.01M1052.49 1004.5h.01M1053.49 1003.5h.01M1054.49 1003.5h.01M1055.49 1002.5h.01M1056.49 1002.5h.01M1057.49 1002.5h.01M1058.49 1000.5h.01M1058.49 1001.5h.01M1059.49 1000.5h.01M1060.49 1001.5h.01M1061.49 1000.5h.01M1062.49 1000.5h.01M1063.49 1000.5h.01M1064.49 1000.5h.01M1065.49 1000.5h.01M1066.49 1000.5h.01M1067.49 999.5h.01M1067.49 1000.5h.01M1068.49 1000.5h.01M1069.49 1000.5h.01M1070.49 1000.5h.01M1071.49 1001.5h.01M1072.49 1001.5h.01M1073.49 1001.5h.01M1074.49 1001.5h.01M1075.49 1002.5h.01M1076.49 1001.5h.01M1076.49 1002.5h.01M1077.49 1001.5h.01M1078.49 1002.5h.01M1079.49 1002.5h.01M1080.49 1001.5h.01M1081.49 1001.5h.01M1082.49 1000.5h.01M1083.49 1000.5h.01M1084.49 999.5h.01M1085.49 999.5h.01M1085.49 1000.5h.01M1086.49 1000.5h.01M1087.49 1001.5h.01M1088.49 1001.5h.01M1089.49 1001.5h.01M1090.49 1002.5h.01M1091.49 1003.5h.01M1092.49 1004.5h.01M1093.49 1005.5h.01M1094.49 1006.5h.01M1094.49 1006.5h.01M1095.49 1007.5h.01M1096.49 1007.5h.01M1097.49 1008.5h.01M1098.49 1008.5h.01M1100.49 1001.5h.01M1100.49 1001.5h.01M1101.49 1001.5h.01M1102.49 1001.5h.01M1103.49 1001.5h.01M1104.49 1002.5h.01M1105.49 1002.5h.01M1106.49 1002.5h.01M1107.49 1005.5h.01M1108.49 1004.5h.01M1109.49 1005.5h.01M1109.49 1006.5h.01M1110.49 1007.5h.01M1111.49 1007.5h.01M1112.49 1006.5h.01M1113.49 1006.5h.01M1114.49 1007.5h.01M1115.49 1006.5h.01M1116.49 1005.5h.01M1117.49 1004.5h.01M1118.49 1004.5h.01M1118.49 1003.5h.01M1119.49 1002.5h.01M1120.49 1001.5h.01M1121.49 1002.5h.01M1122.49 1003.5h.01M1123.49 1004.5h.01M1124.49 1005.5h.01M1125.49 1006.5h.01M1126.49 1008.5h.01M1127.49 1008.5h.01M1127.49 1007.5h.01M1128.49 1006.5h.01M1130.49 1001.5h.01M1131.49 1001.5h.01M1132.49 1001.5h.01M1133.49 1001.5h.01M1134.49 1001.5h.01M1134.49 1001.5h.01M1135.49 1001.5h.01M1136.49 1002.5h.01M1137.49 1003.5h.01M1138.49 1003.5h.01M1139.49 1003.5h.01M1140.49 1003.5h.01M1141.49 1002.5h.01M1142.49 1003.5h.01M1143.49 1002.5h.01M1143.49 1002.5h.01M1144.49 1001.5h.01M1145.49 1001.5h.01M1146.49 1000.5h.01M1147.49 1000.5h.01M1148.49 999.5h.01M1149.49 999.5h.01M1150.49 998.5h.01M1151.49 997.5h.01M1152.49 998.5h.01M1152.49 999.5h.01M1153.49 999.5h.01M1154.49 1000.5h.01M1155.49 1000.5h.01M1156.49 1000.5h.01M1157.49 1001.5h.01M1158.49 1002.5h.01M1159.49 1003.5h.01M1160.49 1004.5h.01M1161.49 1004.5h.01M1161.49 1004.5h.01M1162.49 1006.5h.01M1163.49 1006.5h.01M1164.49 1006.5h.01M1165.49 1007.5h.01M1166.49 1007.5h.01M1167.49 1007.5h.01M1168.49 1006.5h.01M1169.49 1006.5h.01M1170.49 1006.5h.01M1170.49 1005.5h.01M1173.49 1000.5h.01M1173.49 1001.5h.01M1174.49 1002.5h.01M1175.49 1002.5h.01M1176.49 1003.5h.01M1177.49 1004.5h.01M1178.49 1005.5h.01M1179.49 1006.5h.01M1180.49 1006.5h.01M1181.49 1005.5h.01M1182.49 1006.5h.01M1182.49 1007.5h.01M1183.49 1007.5h.01M1184.49 1007.5h.01M1185.49 1008.5h.01M1186.49 1008.5h.01M1187.49 1008.5h.01M1188.49 1008.5h.01M1189.49 1007.5h.01M1190.49 1006.5h.01M1191.49 1006.5h.01M1191.49 1006.5h.01M1192.49 1005.5h.01M1193.49 1004.5h.01M1194.49 1004.5h.01M1195.49 1005.5h.01M1196.49 1005.5h.01M1197.49 1005.5h.01M1198.49 1006.5h.01M1199.49 1006.5h.01M1200.49 1007.5h.01M1200.49 1007.5h.01M1201.49 1006.5h.01M1202.49 1006.5h.01M1203.49 1006.5h.01M1204.49 1006.5h.01M1205.49 1005.5h.01M1206.49 1005.5h.01M1207.49 1006.5h.01M1208.49 1005.5h.01M1209.49 1004.5h.01M1209.49 1004.5h.01M1210.49 1004.5h.01M1211.49 1004.5h.01M1212.49 1004.5h.01M1213.49 1004.5h.01M1214.49 1004.5h.01M1215.49 1003.5h.01M1216.49 1003.5h.01M1217.49 1003.5h.01M1218.49 1002.5h.01M1218.49 1003.5h.01M1219.49 1002.5h.01M1220.49 1002.5h.01M1221.49 1001.5h.01M1222.49 1001.5h.01M1224.49 1005.5h.01M1224.49 1005.5h.01M1225.49 1005.5h.01M1226.49 1005.5h.01M1227.49 1004.5h.01M1228.49 1004.5h.01M1229.49 1004.5h.01M1230.49 1003.5h.01M1231.49 1003.5h.01M1232.49 1003.5h.01M1233.49 1002.5h.01M1233.49 1001.5h.01M1234.49 1001.5h.01M1235.49 1001.5h.01M1236.49 1000.5h.01M1237.49 999.5h.01M1238.49 997.5h.01M1239.49 1007.5h.01M1240.49 1007.5h.01M1241.49 1007.5h.01M1242.49 1005.5h.01M1243.49 1004.5h.01M1243.49 1005.5h.01M1244.49 1005.5h.01M1245.49 1004.5h.01M1246.49 1003.5h.01M1247.49 1003.5h.01M1248.49 1003.5h.01M1249.49 1002.5h.01M1250.49 1002.5h.01M1251.49 1003.5h.01M1252.49 1002.5h.01M1252.49 1003.5h.01M1253.49 1001.5h.01M1254.49 1001.5h.01M1255.49 1001.5h.01M1256.49 1000.5h.01M1257.49 999.5h.01M1258.49 998.5h.01M1259.49 998.5h.01M1260.49 998.5h.01M1261.49 998.5h.01M1261.49 997.5h.01M1262.49 997.5h.01M1263.49 997.5h.01M1264.49 997.5h.01M1265.49 997.5h.01M1261.49 1002.5h.01M1261.49 1003.5h.01M1262.49 1004.5h.01M1263.49 1004.5h.01M1264.49 1005.5h.01M1265.49 1006.5h.01M1266.49 1005.5h.01M1267.49 1006.5h.01M1268.49 1007.5h.01M1269.49 1007.5h.01M1270.49 1008.5h.01M1270.49 1008.5h.01M1271.49 1007.5h.01M1272.49 1006.5h.01M1273.49 1006.5h.01M1274.49 1005.5h.01M1275.49 1004.5h.01M1276.49 1004.5h.01M1277.49 1004.5h.01M1278.49 1004.5h.01M1279.49 1004.5h.01M1279.49 1004.5h.01M1280.49 1003.5h.01M1281.49 1004.5h.01M1282.49 1003.5h.01M1283.49 1003.5h.01M1284.49 1003.5h.01M1285.49 1003.5h.01M1286.49 1003.5h.01M1287.49 1003.5h.01M1288.49 1003.5h.01M1288.49 1003.5h.01M1289.49 1004.5h.01M1290.49 1004.5h.01M1291.49 1005.5h.01M1292.49 1006.5h.01M1293.49 1006.5h.01M1294.49 1006.5h.01M1295.49 1007.5h.01M1296.49 1007.5h.01M1297.49 1007.5h.01M1297.49 1007.5h.01M1298.49 1006.5h.01M1299.49 1006.5h.01M1300.49 1006.5h.01M1301.49 1006.5h.01M1302.49 1004.5h.01M1303.49 1001.5h.01" stroke="#000" stroke-width="2.6" stroke-linecap="round" fill="none" clip-path="url(#c4)"/>
<path d="M603.5 996.5h.01M641.5 997.5h.01M734.5 998.5h.01M754.5 1007.5h.01M854.5 1000.5h.01M978.5 1003.5h.01M983.5 996.5h.01M970.5 1007.5h.01M1041.49 997.5h.01M1049.49 995.5h.01M1093.49 996.5h.01M1273.49 997.5h.01" stroke="#000" stroke-width="2.5" stroke-linecap="round" fill="none" clip-path="url(#c4)"/>
<path d="M454.5 993.5h.01M640.5 990.5h.01M715.5 993.5h.01M901.5 992.5h.01M1262.49 992.5h.01" stroke="#f00" stroke-width="2.8" stroke-linecap="round" fill="none" clip-path="url(#c4)"/>
<path d="M162.15 956.1l1.25 2.9l-2.5 0zM163.15 956.1l1.25 2.9l-2.5 0zM164.15 956.1l1.25 2.9l-2.5 0zM165.15 956.1l1.25 2.9l-2.5 0zM166.15 956.1l1.25 2.9l-2.5 0zM167.15 956.1l1.25 2.9l-2.5 0zM168.15 956.1l1.25 2.9l-2.5 0zM169.15 956.1l1.25 2.9l-2.5 0zM170.15 956.1l1.25 2.9l-2.5 0zM171.15 956.1l1.25 2.9l-2.5 0zM172.15 956.1l1.25 2.9l-2.5 0zM173.15 956.1l1.25 2.9l-2.5 0zM174.15 956.1l1.25 2.9l-2.5 0zM175.15 956.1l1.25 2.9l-2.5 0zM176.15 956.1l1.25 2.9l-2.5 0zM177.15 956.1l1.25 2.9l-2.5 0zM178.15 956.1l1.25 2.9l-2.5 0zM179.15 956.1l1.25 2.9l-2.5 0zM180.15 956.1l1.25 2.9l-2.5 0zM181.15 956.1l1.25 2.9l-2.5 0zM182.15 956.1l1.25 2.9l-2.5 0zM183.15 956.1l1.25 2.9l-2.5 0zM184.15 956.1l1.25 2.9l-2.5 0zM185.15 956.1l1.25 2.9l-2.5 0zM186.15 956.1l1.25 2.9l-2.5 0zM187.15 956.1l1.25 2.9l-2.5 0zM188.15 956.1l1.25 2.9l-2.5 0zM189.15 956.1l1.25 2.9l-2.5 0zM190.15 956.1l1.25 2.9l-2.5 0zM191.15 956.1l1.25 2.9l-2.5 0zM192.15 956.1l1.25 2.9l-2.5 0zM193.15 956.1l1.25 2.9l-2.5 0zM194.15 956.1l1.25 2.9l-2.5 0zM195.15 956.1l1.25 2.9l-2.5 0zM196.15 956.1l1.25 2.9l-2.5 0zM197.15 956.1l1.25 2.9l-2.5 0zM198.15 956.1l1.25 2.9l-2.5 0zM199.15 956.1l1.25 2.9l-2.5 0zM200.15 956.1l1.25 2.9l-2.5 0zM201.15 956.1l1.25 2.9l-2.5 0zM202.15 956.1l1.25 2.9l-2.5 0zM254.5 956.1l1.25 2.9l-2.5 0zM530.5 956.1l1.25 2.9l-2.5 0zM785 956.1l1.25 2.9l-2.5 0zM839.4 956.1l1.25 2.9l-2.5 0zM891.3 956.1l1.25 2.9l-2.5 0zM895.5 956.1l1.25 2.9l-2.5 0zM910.1 956.1l1.25 2.9l-2.5 0zM912.4 956.1l1.25 2.9l-2.5 0zM942.5 956.1l1.25 2.9l-2.5 0zM986.4 956.1l1.25 2.9l-2.5 0zM996.4 956.1l1.25 2.9l-2.5 0zM1018.4 956.1l1.25 2.9l-2.5 0zM1035.2 956.1l1.25 2.9l-2.5 0zM1152.4 956.1l1.25 2.9l-2.5 0zM1163.4 956.1l1.25 2.9l-2.5 0zM1169.4 956.1l1.25 2.9l-2.5 0zM1189.4 956.1l1.25 2.9l-2.5 0zM1216.4 956.1l1.25 2.9l-2.5 0zM1234.4 956.1l1.25 2.9l-2.5 0z" fill="#f00" stroke="#f00" stroke-width="1.4" stroke-linejoin="round" clip-path="url(#c4)"/>
<path d="M105.5 916.5H1485M105.5 878.5H1485M105.5 840.5H1485M105.5 801.5H1485M105.5 763.5H1485" stroke="#b0b0b0" stroke-width="1.11" stroke-dasharray="1.1111 1.8333" fill="none"/>
<path d="M105.5 1009.5H1485M105.5 983.5H1485M105.5 957.5H1485" stroke="#b0b0b0" stroke-width="1.11" stroke-dasharray="1.1111 1.8333" fill="none"/>
<path d="M162.05 954.23V722.4" stroke="#800080" stroke-width="2.08" stroke-dasharray="2.0833 3.4375" fill="none" clip-path="url(#c3)"/>
<path d="M1302.92 954.23V722.4" stroke="#800080" stroke-width="2.08" stroke-dasharray="2.0833 3.4375" fill="none" clip-path="url(#c3)"/>
<path d="M162.05 1011.03V951.5" stroke="#800080" stroke-width="2.08" stroke-dasharray="2.0833 3.4375" fill="none" clip-path="url(#c4)"/>
<path d="M1302.92 1011.03V951.5" stroke="#800080" stroke-width="2.08" stroke-dasharray="2.0833 3.4375" fill="none" clip-path="url(#c4)"/>
<rect x="105.5" y="725.5" width="1380" height="229" fill="none" stroke="#000" stroke-width="1.11"/>
<rect x="105.5" y="954.5" width="1380" height="57" fill="none" stroke="#000" stroke-width="1.11"/>
<path d="M162.5 1011.5v4.86M339.5 1011.5v4.86M517.5 1011.5v4.86M695.5 1011.5v4.86M873.5 1011.5v4.86M1050.5 1011.5v4.86M1228.5 1011.5v4.86M1406.5 1011.5v4.86" stroke="#000" stroke-width="1.11" fill="none"/>
<text x="163.4" y="1032" text-anchor="middle">0</text>
<text x="339.4" y="1032" text-anchor="middle">200</text>
<text x="517.7" y="1032" text-anchor="middle">400</text>
<text x="695.5" y="1032" text-anchor="middle">600</text>
<text x="872.9" y="1032" text-anchor="middle">800</text>
<text x="1050.5" y="1032" text-anchor="middle">1000</text>
<text x="1228.5" y="1032" text-anchor="middle">1200</text>
<text x="1405.5" y="1032" text-anchor="middle">1400</text>
<path d="M105.5 916.5h-4.86M105.5 878.5h-4.86M105.5 840.5h-4.86M105.5 801.5h-4.86M105.5 763.5h-4.86" stroke="#000" stroke-width="1.11" fill="none"/>
<text x="95.38" y="921.3" text-anchor="end">OBS not OK</text>
<text x="95.38" y="882.9" text-anchor="end">dr &gt; 5</text>
<text x="95.38" y="845.3" text-anchor="end">Ion. rad.</text>
<text x="95.38" y="806.7" text-anchor="end">not track</text>
<text x="95.38" y="768.7" text-anchor="end">not Kalman</text>
<path d="M105.5 1009.5h-4.86M105.5 983.5h-4.86M105.5 957.5h-4.86M105.5 996.5h-2.78M105.5 970.5h-2.78" stroke="#000" stroke-width="1.11" fill="none"/>
<text x="95.38" y="1013.8" text-anchor="end">0</text>
<text x="95.38" y="987.8" text-anchor="end">5</text>
<text x="95.38" y="961.8" text-anchor="end">10</text>
<text transform="translate(68.8 983) rotate(-90)" text-anchor="middle">dr</text>
</g>
</svg>
</body></html>
